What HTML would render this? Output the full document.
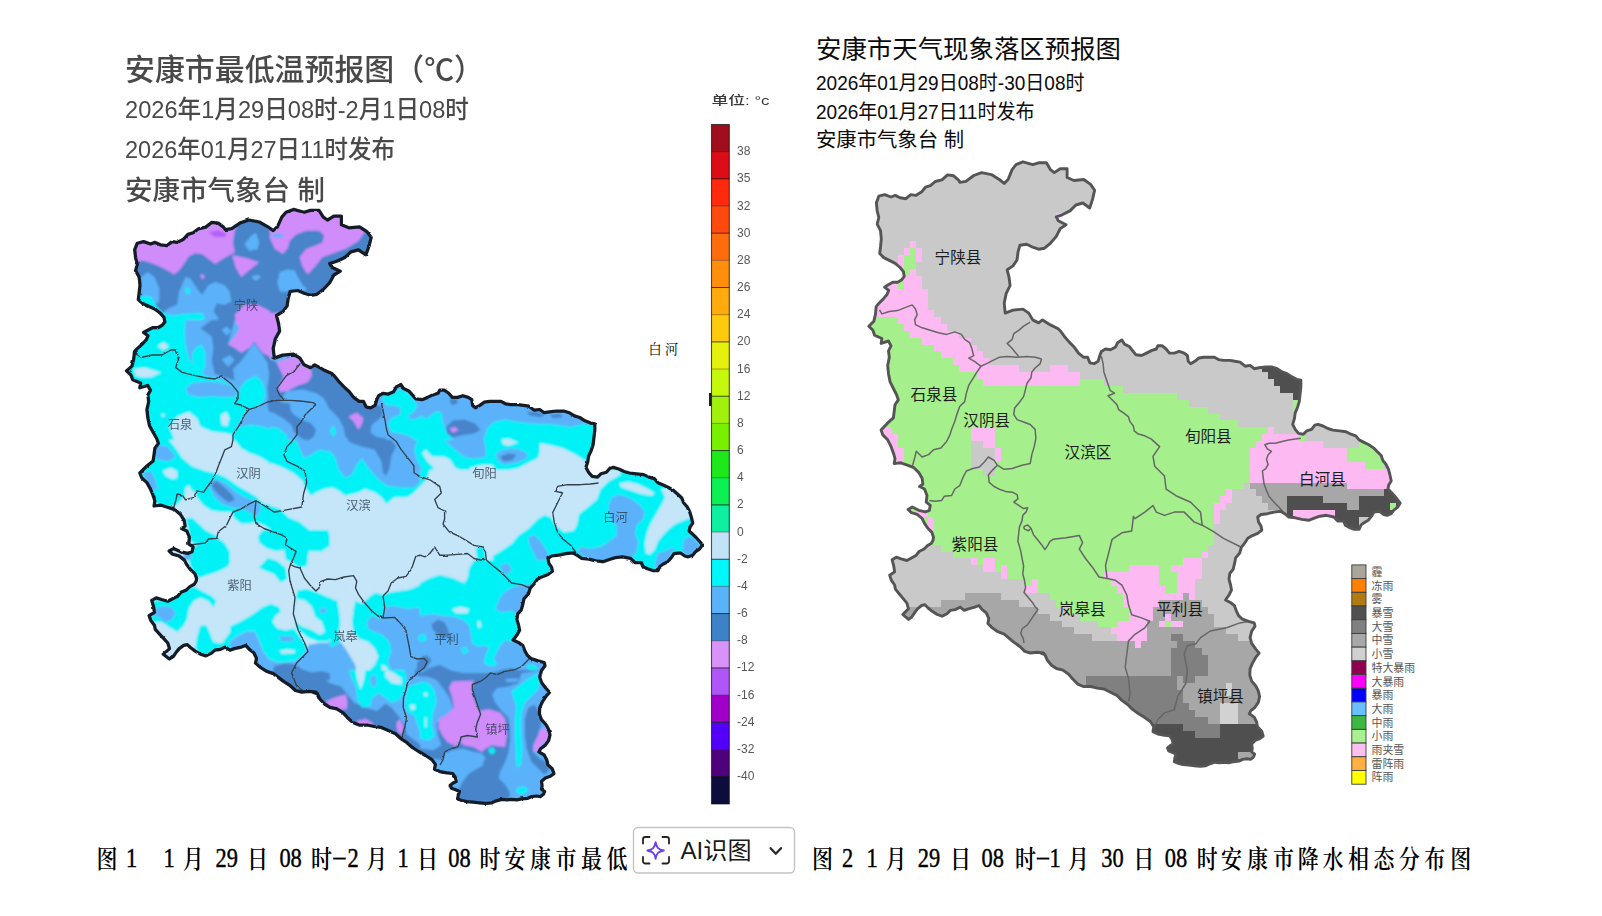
<!DOCTYPE html><html lang="zh"><head><meta charset="utf-8"><title>安康市天气预报图</title>
<style>html,body{margin:0;padding:0;background:#fff}body{width:1602px;height:916px;overflow:hidden;position:relative}svg{position:absolute;left:0;top:0;display:block}text{white-space:pre}</style></head><body>
<svg width="1602" height="916" viewBox="0 0 1602 916">
<defs>
<clipPath id="clipL"><polygon points="137.3,243.2 143.6,241.6 150.6,244 155.1,242.4 160.4,244.8 166.7,245.7 172,241.6 177.3,242.4 183.5,239.2 187.9,234.4 193.2,232.8 198.5,228.8 205.7,227.1 211.9,222.3 218.2,223.1 223.5,227.1 225.3,229.6 231.7,228.7 240.3,222.9 248.7,220 259.3,222 267.9,226.8 273.2,230.6 277.4,226.8 281.8,217.1 286,212.3 293.5,209.4 304.1,212.3 310.5,210.4 319,210.4 323.3,217.1 327.5,220 333.9,216.2 341.4,216.2 341.4,224.8 348.8,227.8 359.5,226.8 366.9,231.6 371.2,237.4 369,246.1 365.9,254.8 358.4,249.9 350.9,251.9 344.5,257.7 336.1,261.5 329.7,263.5 331.7,267.3 340.3,271.2 333.9,275 329.7,282.7 323.3,289.5 316.9,294.3 310.5,295.3 304.1,293.3 297.7,290.5 290.2,291.5 288.2,298.2 287.1,305.9 282.8,311.7 276.5,315.5 278.5,323.3 279.6,331.1 275.4,338.7 273.2,348.3 274.3,358.1 282.8,355.1 293.5,354.1 299.9,358.1 304.1,364.8 310.5,367.7 314.7,364.8 323.3,369.7 331.7,373.5 334.2,375.7 338.7,381.3 344,386.9 349.3,391.7 353.7,397.4 359.1,401.4 363.5,401.4 366.2,407 370.7,407.8 375,405.4 376.8,399.7 378.6,395.7 383,393.3 388.3,394.1 393.6,391.7 396.3,386.9 400.8,384.5 403.5,388.5 408.8,390.9 412.3,394.9 415.9,398.9 422.1,399.7 427.4,397.4 432.8,394.9 438.1,393.3 439.8,390.1 444.2,390.1 448.7,393.3 452.3,397.4 457.6,397.4 462.9,395.7 468.2,397.4 471.8,399.7 472.6,405.4 475.4,407.8 479.8,405.4 484.2,402.2 489.6,401.4 496.7,401.4 501,401.4 505.5,403.8 510.9,404.6 518,404.6 523.3,405.4 528.8,406.2 534.4,410.2 539.7,409.5 544.2,412.7 549.5,411.8 556.6,411 563.7,411 569.1,412.7 574.4,415.9 579.7,417.5 585,420.8 590.4,423.1 594.8,423.9 594.8,430.4 593.9,437.7 593.1,444.8 591.2,450.5 588.6,456.1 587.8,461.7 585.9,467.4 588.6,472.3 592.2,476.3 597.5,477.1 601,473.8 606.4,472.3 609.9,468.2 613.4,467.4 618.8,469 624.1,471.5 629.5,473 636.5,473.8 643.7,474.6 649,477.1 654.3,478.6 657.9,482.7 663.2,485.1 668.5,487.5 673.8,490.7 678.3,494.8 681.8,498 683.6,502.8 687.1,506.8 689.7,511.7 691.6,518.1 692.7,523.1 690,527 689.1,531 692.7,534.3 696.1,537.5 699.7,541.5 702.4,544.8 699.7,548.8 695.3,551.9 692.7,555.2 688.2,556.8 684.7,556 680.2,552.8 674,553.6 671.3,557.6 667.7,561.7 663.3,564 659.8,566.5 658,570.5 652.7,570.5 647.4,568.8 642.9,566.5 641.2,562.5 634.9,562.5 630.5,558.4 622.5,556.8 615.4,557.6 610.1,559.2 603,561.7 595.9,560.8 588.7,559.2 581.7,558.4 577.2,555.2 572.8,552.8 565.8,553.6 558.6,555.2 551.6,556 548,558.4 548.8,563.2 551.6,567.3 552.4,571.3 548,574.5 541.7,576.9 537.2,579.4 533.8,584.2 530.2,588.2 528.5,593.8 524,598.6 523,603.5 521.3,609.9 517.7,613.9 516.9,619.5 518.6,625.2 519.6,630.2 516.9,635.1 513.1,640 518.4,642.4 522.8,645.6 524.7,650.4 527.3,655.3 530.9,658.5 538,660.9 544.2,662.5 545,665.7 541.5,670.5 539.7,677 541.5,682.6 545.9,688.2 549.5,692.3 545.9,696.3 542.3,702 539.7,707.6 539.4,714 541.5,719.7 545.9,724.5 548.6,729.3 550,734.9 548.6,740.6 545,745.4 540.6,748.7 538.9,751.8 544.2,755 546.8,759.9 547.8,764.7 552.2,768.7 553.9,773.6 550.3,776.3 545.3,778 541.5,781.4 542.1,785.9 541.5,789.2 544.6,791.5 543.4,794.3 540.3,796.6 536.6,796 531.6,796.6 527.8,798.3 521.6,798.9 516.7,799.9 511.7,799.4 506.7,799.9 501.7,799.4 495.5,801.1 491.8,802.8 485.5,803.4 479.4,802.8 473.2,802.2 466.9,801.6 461.9,800.5 457.6,798.9 458.2,794.9 459.5,791.5 455.7,789.8 451.4,788.2 450.2,785.3 453.2,783 456.4,781.4 455.1,776.9 452.6,773.5 447.1,772.9 439.8,771.6 434.5,769.3 435.4,764.4 431.9,759.6 425.6,755.5 418.6,751.5 412.3,747.5 407,742.7 400.8,738.6 395.5,733.8 388.3,730.6 381.3,727.4 374.1,726.5 367.1,725 359.1,725 352.9,722.6 347.6,717.7 343.1,712.9 336.8,708.9 329.8,707.3 324.5,704 320,699.2 317.3,693.6 312,692 315.9,692.1 308.9,691.3 301.7,692.1 295.5,690.5 290.2,685.7 283.9,681.6 278.6,677.6 273.3,673.6 266.3,671.1 260,667.1 255.5,663.1 256.5,658.3 253.8,652.7 249.4,649.4 245.8,645.4 241.3,647.1 234.3,648.6 229.9,650.2 225.4,647.1 220.1,649.4 214.8,650.2 211.2,653.4 205.9,655.9 200.6,654.2 195.2,651.1 190.7,647.8 187.3,644.6 183.7,645.4 179.2,648.6 176.5,651.9 173.1,656.7 169.5,659 163.3,654.2 165.9,651.9 169.5,648.6 167.8,643 163.3,638.1 158.9,633.3 155.3,629.3 154.4,625.2 150.8,620.4 149.1,615.6 154.4,612.4 153.6,606.8 151.7,600.4 156.2,597.9 161.5,599.5 167.8,601.2 171.2,599.5 177.5,596.4 181,592.3 186.4,589.9 189.9,586.6 194.3,584.3 196.2,581 196.6,578.4 194.9,573.6 190.4,569.5 186.8,564.7 184.2,559.9 178.9,555.9 172.6,554.2 169.1,551 173.5,548.6 180.7,551.8 187.7,553.4 192.1,551.8 193.1,546.9 188.7,543.8 189.5,537.3 186.8,530.9 181.5,528.5 185.1,526.1 184.2,520.4 180.7,514.8 175.3,510 168.2,507.5 161.1,505.2 154,506 154.9,501.1 153.1,495.4 150.5,489.1 146.9,482.6 141.6,477.8 139.8,472.9 146.9,466 153.1,461 154,454.7 154.9,448.2 158.4,443.4 156.7,438.5 153.1,432.2 149.5,425.7 147.8,417.6 146.9,409.6 148.7,401.5 147.8,395.1 150.5,390.3 147.8,385.5 139.8,387.8 140.7,383 132.7,379.8 130.9,375 126.5,370.9 131.9,366.1 133.6,359.6 134.5,351.7 136.4,349.4 141.7,344.6 146.2,339.8 148,335.8 143.6,332.5 146.2,331 152.5,327.7 157.8,327.7 162.2,325.3 164.8,322.1 164,317.3 160.4,313.3 155.1,309.2 149.8,306.8 142.7,303.5 138.3,299.5 139.1,293.1 140,285.1 139.1,277 135.6,270.6 137.3,264.1 135.6,257.8 134.7,249.7"/></clipPath>
<clipPath id="clipR"><polygon points="878.8,196.2 884.6,194.6 891.1,197 895.2,195.4 900.1,197.8 905.9,198.7 910.8,194.6 915.7,195.4 921.4,192.1 925.5,187.2 930.4,185.6 935.3,181.5 941.9,179.8 947.6,174.9 953.4,175.7 958.3,179.8 960,182.4 965.9,181.4 973.8,175.5 981.6,172.6 991.4,174.6 999.3,179.5 1004.2,183.4 1008.1,179.5 1012.1,169.6 1016,164.7 1022.9,161.8 1032.7,164.7 1038.6,162.8 1046.4,162.8 1050.4,169.6 1054.3,172.6 1060.2,168.7 1067.1,168.7 1067.1,177.5 1073.9,180.5 1083.8,179.5 1090.6,184.4 1094.6,190.3 1092.6,199.1 1089.7,208 1082.8,203 1075.9,205 1070,210.9 1062.2,214.8 1056.3,216.8 1058.2,220.7 1066.1,224.7 1060.2,228.6 1056.3,236.4 1050.4,243.3 1044.5,248.2 1038.6,249.2 1032.7,247.2 1026.8,244.3 1019.9,245.3 1018,252.2 1017,260 1013,265.9 1007.2,269.8 1009.1,277.7 1010.1,285.6 1006.2,293.4 1004.2,303.2 1005.2,313.1 1013,310.1 1022.9,309.1 1028.8,313.1 1032.7,319.9 1038.6,322.9 1042.5,319.9 1050.4,324.9 1058.2,328.8 1060.5,331 1064.6,336.7 1069.5,342.4 1074.4,347.3 1078.5,353.1 1083.4,357.2 1087.5,357.2 1090,362.9 1094.1,363.7 1098.1,361.3 1099.8,355.5 1101.4,351.4 1105.5,349 1110.4,349.8 1115.3,347.3 1117.8,342.4 1121.9,340 1124.4,344.1 1129.3,346.5 1132.5,350.6 1135.8,354.7 1141.6,355.5 1146.5,353.1 1151.4,350.6 1156.3,349 1157.9,345.7 1162,345.7 1166.1,349 1169.4,353.1 1174.3,353.1 1179.2,351.4 1184.1,353.1 1187.4,355.5 1188.2,361.3 1190.7,363.7 1194.8,361.3 1198.9,358 1203.8,357.2 1210.4,357.2 1214.4,357.2 1218.5,359.6 1223.5,360.4 1230,360.4 1234.9,361.3 1240,362.1 1245.2,366.2 1250.1,365.4 1254.2,368.7 1259.1,367.8 1265.7,367 1272.2,367 1277.2,368.7 1282.1,371.9 1287,373.6 1291.9,376.9 1296.8,379.3 1300.9,380.1 1300.9,386.7 1300.1,394.1 1299.3,401.4 1297.6,407.2 1295.2,412.9 1294.4,418.6 1292.7,424.4 1295.2,429.3 1298.5,433.4 1303.4,434.2 1306.6,430.9 1311.6,429.3 1314.8,425.2 1318.1,424.4 1323,426 1327.9,428.5 1332.9,430.1 1339.4,430.9 1346,431.7 1350.9,434.2 1355.8,435.8 1359.1,439.9 1364,442.4 1368.9,444.8 1373.8,448.1 1377.9,452.2 1381.2,455.5 1382.8,460.4 1386.1,464.5 1388.5,469.4 1390.2,476 1391.2,481 1388.7,485 1387.9,489.1 1391.2,492.4 1394.4,495.7 1397.7,499.8 1400.2,503.1 1397.7,507.2 1393.6,510.4 1391.2,513.7 1387.1,515.3 1383.8,514.5 1379.7,511.3 1374,512.1 1371.5,516.2 1368.2,520.3 1364.1,522.7 1360.9,525.2 1359.2,529.3 1354.3,529.3 1349.4,527.6 1345.3,525.2 1343.7,521.1 1337.9,521.1 1333.8,517 1326.5,515.3 1319.9,516.2 1315,517.8 1308.5,520.3 1301.9,519.4 1295.3,517.8 1288.8,517 1284.7,513.7 1280.6,511.3 1274.1,512.1 1267.5,513.7 1261,514.5 1257.7,517 1258.5,521.9 1261,526 1261.8,530.1 1257.7,533.4 1251.9,535.8 1247.8,538.3 1244.6,543.2 1241.3,547.3 1239.7,553 1235.6,557.9 1234.7,562.9 1233.1,569.4 1229.8,573.5 1229,579.2 1230.6,585 1231.5,590 1229,595 1225.5,600 1230.4,602.5 1234.5,605.7 1236.2,610.6 1238.6,615.6 1241.9,618.8 1248.5,621.3 1254.2,622.9 1255,626.2 1251.7,631.1 1250.1,637.7 1251.7,643.4 1255.8,649.1 1259.1,653.2 1255.8,657.3 1252.5,663.1 1250.1,668.8 1249.8,675.3 1251.7,681.1 1255.8,686 1258.3,690.9 1259.6,696.6 1258.3,702.4 1255,707.3 1250.9,710.6 1249.3,713.8 1254.2,717.1 1256.6,722 1257.5,726.9 1261.6,731 1263.2,736 1259.8,738.7 1255.2,740.5 1251.7,743.9 1252.3,748.5 1251.7,751.9 1254.6,754.2 1253.5,757.1 1250.6,759.4 1247.2,758.8 1242.6,759.4 1239.1,761.1 1233.4,761.7 1228.8,762.8 1224.2,762.2 1219.6,762.8 1215,762.2 1209.3,764 1205.9,765.7 1200.1,766.3 1194.4,765.7 1188.7,765.1 1182.9,764.5 1178.3,763.4 1174.3,761.7 1174.9,757.7 1176.1,754.2 1172.6,752.5 1168.6,750.8 1167.5,747.9 1170.3,745.6 1173.2,743.9 1172,739.3 1169.7,735.9 1164.6,735.3 1157.9,734 1153,731.6 1153.8,726.6 1150.6,721.7 1144.8,717.6 1138.3,713.5 1132.5,709.4 1127.6,704.5 1121.9,700.4 1117,695.5 1110.4,692.2 1103.9,689 1097.3,688.1 1090.8,686.5 1083.4,686.5 1077.7,684.1 1072.8,679.1 1068.7,674.2 1062.9,670.1 1056.4,668.5 1051.5,665.2 1047.4,660.3 1044.9,654.6 1040,652.9 1043.6,653 1037.1,652.2 1030.5,653 1024.8,651.4 1019.9,646.5 1014.1,642.4 1009.2,638.3 1004.3,634.2 997.8,631.7 992,627.6 987.9,623.5 988.8,618.6 986.3,612.9 982.2,609.6 978.9,605.5 974.8,607.2 968.3,608.8 964.2,610.4 960.1,607.2 955.2,609.6 950.3,610.4 947,613.7 942.1,616.2 937.2,614.5 932.2,611.3 928.1,608 924.9,604.7 921.6,605.5 917.5,608.8 915,612.1 911.8,617 908.5,619.4 902.8,614.5 905.2,612.1 908.5,608.8 906.9,603.1 902.8,598.1 898.7,593.2 895.4,589.1 894.6,585 891.3,580.1 889.7,575.2 894.6,571.9 893.8,566.2 892.1,559.7 896.2,557.2 901.1,558.8 906.9,560.5 910.1,558.8 915.9,555.6 919.1,551.5 924.1,549 927.3,545.7 931.4,543.3 933.1,540 933.5,537.3 931.9,532.4 927.8,528.3 924.5,523.4 922.1,518.5 917.2,514.4 911.4,512.7 908.1,509.4 912.2,507 918.8,510.3 925.3,511.9 929.4,510.3 930.3,505.3 926.2,502.1 927,495.5 924.5,489 919.6,486.5 922.9,484.1 922.1,478.3 918.8,472.6 913.9,467.7 907.3,465.2 900.8,462.8 894.2,463.6 895,458.7 893.4,452.9 891,446.4 887.7,439.8 882.8,434.9 881.1,430 887.7,422.9 893.4,417.9 894.2,411.4 895,404.8 898.3,399.9 896.7,395 893.4,388.5 890.1,381.9 888.5,373.7 887.7,365.5 889.3,357.3 888.5,350.8 891,345.9 888.5,341 881.1,343.4 881.9,338.5 874.6,335.2 872.9,330.3 868.8,326.2 873.8,321.3 875.4,314.7 876.2,306.6 878,304.3 882.9,299.4 887,294.5 888.7,290.4 884.6,287.1 887,285.5 892.8,282.2 897.7,282.2 901.8,279.7 904.2,276.5 903.4,271.6 900.1,267.5 895.2,263.4 890.3,260.9 883.8,257.6 879.7,253.5 880.5,247 881.3,238.8 880.5,230.6 877.2,224.1 878.8,217.5 877.2,211 876.4,202.8"/></clipPath>
<filter id="soft" x="-5%" y="-5%" width="110%" height="110%"><feGaussianBlur stdDeviation="0.45"/></filter>
<filter id="soft2" x="-5%" y="-5%" width="110%" height="110%"><feGaussianBlur stdDeviation="1.15"/></filter>
<filter id="rough" x="-3%" y="-3%" width="106%" height="106%"><feTurbulence type="fractalNoise" baseFrequency="0.2" numOctaves="2" seed="7" result="n"/><feDisplacementMap in="SourceGraphic" in2="n" scale="2.0" xChannelSelector="R" yChannelSelector="G"/><feGaussianBlur stdDeviation="0.6"/></filter>
<filter id="rough3" x="-3%" y="-3%" width="106%" height="106%"><feTurbulence type="fractalNoise" baseFrequency="0.2" numOctaves="2" seed="11" result="n"/><feDisplacementMap in="SourceGraphic" in2="n" scale="2.2" xChannelSelector="R" yChannelSelector="G"/><feGaussianBlur stdDeviation="0.45"/></filter>
<filter id="rough2" x="-3%" y="-3%" width="106%" height="106%"><feTurbulence type="fractalNoise" baseFrequency="0.2" numOctaves="2" seed="3" result="n"/><feDisplacementMap in="SourceGraphic" in2="n" scale="1.3" xChannelSelector="R" yChannelSelector="G"/></filter>
</defs>
<g id="leftmap">
<g clip-path="url(#clipL)"><g filter="url(#soft2)">
<rect x="100" y="190" width="640" height="640" fill="#5cb2fa"/>
<svg x="120" y="200" width="200" height="150" viewBox="120 200 200 150" overflow="hidden">
<rect x="120" y="200" width="200" height="150" fill="#4784c9"/>
<polygon fill="#d08cfb" points="133.1,245.9 141.3,239.3 169.1,235.2 193.7,226.2 211.7,218 224.8,221.3 237.9,224.6 234.7,231.1 233,242.6 234.7,252.4 228.1,255.7 221.6,259.8 215,263.9 208.5,259 201.9,254.1 195.3,253.2 188.8,256.5 183.9,263.9 179,270.4 174.1,274.5 167.5,270.4 159.3,266.3 151.1,263.1 142.9,260.6 134.7,262.2"/>
<polygon fill="#d08cfb" points="232.2,254.9 246.1,258.1 259.2,262.2 251,268.8 241.2,277 235.5,267.2"/>
<polygon fill="#d08cfb" points="274,230.3 283.8,232.8 285.4,237.3 277.2,238.5 272.3,242.9 274,249.1 280.5,254.4 290.4,252.7 296.1,245 300.2,236.4 308.4,231.4 321.5,230.3 321.5,206.6 280.5,206.6"/>
<polygon fill="#d08cfb" points="300.2,254.1 310,247.5 320,245.9 320,265.5 313.3,268.8 308.4,273.7 303.5,265.5 298.5,260.6"/>
<polygon fill="#d08cfb" points="234.7,314.7 244.5,304.8 257.6,304.8 267.4,309.7 277.2,314.7 275.6,324.5 274,339.2 272.3,350 256,350 254.3,340.9 244.5,342.5 234.7,347.4 226.5,345.8 233,331 236.3,322.9"/>
<polygon fill="#b260fb" points="208.5,231.9 218.3,230.3 226.5,233.6 224.8,236.9 215,236.9"/>
<polygon fill="#d08cfb" points="200.3,275.3 202.7,274 204.8,277 202.2,279.4"/>
<polygon fill="#5cb2fa" points="141.3,277 147.8,272.1 154.4,277 159.3,288.5 159.3,301.6 152.8,306.5 144.6,299.9 139.7,288.5"/>
<polygon fill="#5cb2fa" points="179,291.7 185.5,277 190.4,278.6 197,288.5 201.9,295 208.5,285.2 215,281.9 224.8,285.2 229.7,291.7 231.4,301.6 224.8,304.8 216.6,303.2 213.4,311.4 218.3,317.9 216.6,326.1 208.5,329.4 200.3,331 205.2,339.2 208.5,350 185.5,350 185.5,336 182.2,324.5 169.1,317.9 162.6,313 169.1,308.1 177.3,304.8"/>
<polygon fill="#5cb2fa" points="244.5,244.2 251,236 256,232.8 259.2,242.6 257.6,249.1 249.4,250.8"/>
<polygon fill="#5cb2fa" points="278.9,277 283.8,270.4 293.6,269.6 300.2,277 305.1,286.8 296.9,291.7 288.7,294.2 280.5,291.7 277.2,283.5"/>
<polygon fill="#5cb2fa" points="251,277 257.6,274.5 260.9,277 256,281.1"/>
<polygon fill="#5cb2fa" points="221.6,331 226.5,326.9 231.4,331 226.5,336"/>
<polygon fill="#5cb2fa" points="270.7,233.6 283.8,232.8 283.8,236.9 272.3,236.9"/>
<polygon fill="#02f2f6" points="138,295.8 151.1,296.6 155.2,304.8 162.6,313 172.4,315.5 185.5,313.8 201.9,313 205.2,317.9 197,324.5 188.8,329.4 185.5,336 185.5,350 136.4,350"/>
<polygon fill="#02f2f6" points="184.7,289.3 188,286.8 190.8,290.9 188,295"/>
<polygon fill="#c5e5f9" points="158.5,345 162.6,342.5 167.5,345 167.5,350 158.5,350"/>
</svg>
<svg x="270" y="200" width="200" height="150" viewBox="270 200 200 150" overflow="hidden">
<rect x="270" y="200" width="200" height="150" fill="#4784c9"/>
<polygon fill="#d08cfb" points="270,227.8 270,216.4 279.8,206.6 324.1,204.9 345.3,213.1 365,222.9 364.2,232.8 358.5,241 347,248.3 335.5,252.4 322.4,257.3 315.9,265.5 307.7,274.5 302.8,267.2 299.5,257.3 306,249.1 314.2,245.9 322.4,242.6 324.1,235.2 319.1,230.8 306,230.8 296.2,234.4 289.7,241 288,247.5 283.1,254.1 274.9,249.1 270,238.5"/>
<polygon fill="#5cb2fa" points="271.6,234.1 278.2,233.3 284.7,234.7 283.9,237.3 273.3,237.7"/>
<polygon fill="#5cb2fa" points="279.8,272.1 288,269.6 294.6,270.4 297.8,277 302.8,285.2 307.7,290.1 299.5,291.7 291.3,289.3 286.4,291.7 279.8,291.7 277.4,281.9"/>
<polygon fill="#d08cfb" points="266.7,313 279.8,313 279.8,350 266.7,350"/>
</svg>
<svg x="120" y="320" width="200" height="150" viewBox="120 320 200 150" overflow="hidden">
<rect x="120" y="320" width="200" height="150" fill="#5cb2fa"/>
<polygon fill="#4784c9" points="198.6,329.8 205.2,324.9 211.7,320 234.7,320 228.1,344.6 234.7,347.8 241.2,352.8 249.4,347.8 254.3,341.3 262.5,352.8 272.3,357.7 277.2,362.6 280.5,369.1 283.8,375.7 279.7,385.5 281.3,392.1 290.4,388.8 300.2,383.9 310,377.3 311.6,369.1 320,365.9 320,405.2 313.3,403.5 300.2,401.9 290.4,400.3 277.2,400.3 267.4,405.2 268.2,398.6 267.4,388.8 269.1,374.1 267.4,362.6 260.9,352.8 254.3,342.9 249.4,349.5 241.2,361 233,369.1 234.7,380.6 224.8,377.3 215,374.1 211.7,361 213.4,347.8 211.7,336.4 200.3,328.2"/>
<polygon fill="#4784c9" points="267.4,405.2 277.2,400.3 290.4,400.3 290.4,408.5 295.3,415 301.8,418.3 298.5,424.8 293.6,433 287.1,431.4 280.5,424.8 274,418.3 269.1,411.7"/>
<polygon fill="#4784c9" points="301.8,424.8 310,419.9 316.6,428.1 314.9,436.3 308.4,441.2 301.8,434.7"/>
<polygon fill="#d08cfb" points="234.7,320 278.9,320 280.5,329.8 274,341.3 272.3,357.7 262.5,352.8 254.3,341.3 249.4,347.8 241.2,352.8 234.7,347.8 228.1,344.6 234.7,336.4 239.6,328.2"/>
<polygon fill="#d08cfb" points="277.2,362.6 293.6,356 303.5,362.6 311.6,369.1 310,377.3 300.2,383.9 290.4,388.8 281.3,392.1 279.7,385.5 283.8,375.7 280.5,369.1"/>
<polygon fill="#5cb2fa" points="221.6,359.3 229.7,355.2 234.7,360.1 228.1,366.7"/>
<polygon fill="#5cb2fa" points="221.6,329.8 226.5,326.6 231.4,331.5 226.5,335.6"/>
<polygon fill="#02f2f6" points="157.7,320 185.5,320 184.7,333.1 185.5,344.6 188.8,357.7 195.3,369.1 205.2,375.7 218.3,379 231.4,383.9 237.9,390.4 240.4,398.6 244.5,405.2 251,409.3 244.5,413.4 241.2,419.9 234.7,428.1 241.2,426.5 251,424.8 262.5,426.5 272.3,429.7 280.5,434.7 285.4,441.2 290.4,444.5 287.1,451 283.8,459.2 287.1,470 120,470 120,320"/>
<polygon fill="#02f2f6" points="192.1,352.8 197,347 201.9,344.6 205.2,352.8 205.2,365.9 201.9,374.1 197,372.4 192.9,364.2"/>
<polygon fill="#02f2f6" points="239.6,388.8 246.1,380.6 256,375.7 262.5,382.2 265.8,393.7 262.5,403.5 252.7,408.5 244.5,405.2 239.6,398.6"/>
<polygon fill="#02f2f6" points="283.8,447.8 290.4,444.5 300.2,449.4 310,456 320,451 320,470 285.4,470"/>
<polygon fill="#5cb2fa" points="185.5,388.8 192.1,383.1 205.2,381.4 218.3,382.2 231.4,385.5 237.9,392.1 234.7,397 224.8,397 211.7,396.2 198.6,397 188.8,395.3"/>
<polygon fill="#5cb2fa" points="155.2,442.9 162.6,441.2 169.1,447.8 174.1,456 175.7,462.5 169.1,465.8 161,462.5 154.4,456"/>
<polygon fill="#4784c9" points="144.6,464.1 157.7,459.2 162.6,465.8 161,470 144.6,470"/>
<polygon fill="#c5e5f9" points="157.7,346.2 163.4,342.1 169.1,346.2 163.4,350.3"/>
<polygon fill="#c5e5f9" points="133.9,369.1 144.6,367.5 161,372.4 151.1,377.3 141.3,377.3 135.6,375.7"/>
<polygon fill="#c5e5f9" points="220.7,415 226.5,411.7 229.4,418.3 227.3,426.5 221.6,424.8"/>
<polygon fill="#c5e5f9" points="169.1,426.5 177.3,416.6 188.8,411.7 197,418.3 200.3,426.5 211.7,431.4 224.8,433 233,434.7 229.7,446.1 237.9,446.1 244.5,451 256,454.3 267.4,457.6 277.2,462.5 283.8,470 188.8,470 182.2,459.2 175.7,444.5 172.4,434.7"/>
<polygon fill="#c5e5f9" points="161,414.7 163.4,413.7 165.4,415.5 162.9,417"/>
</svg>
<svg x="270" y="320" width="200" height="150" viewBox="270 320 200 150" overflow="hidden">
<rect x="270" y="320" width="200" height="150" fill="#5cb2fa"/>
<polygon fill="#4784c9" points="286.4,391.3 297.8,385.5 307.7,382.2 311.8,375.7 311,367.5 317.5,365 325.7,369.1 333.9,375.7 340.4,383.9 348.6,390.4 356.8,398.6 363.4,401.1 368.3,406 374.8,404.4 381.4,406 383,415 378.1,419.9 371.6,424.8 370.7,433 376.5,436.3 384.7,437.9 392.9,444.5 394.5,451 392,459.2 391.2,470 383,470 384.7,460.9 383,451 374.8,447.8 361.7,446.9 351.9,442.9 345.3,436.3 343.7,428.1 338.8,418.3 329,408.5 324.1,398.6 315.9,392.9 302.8,389.6"/>
<polygon fill="#4784c9" points="270,359.3 276.6,362.6 279.8,369.1 283.9,377.3 278.2,387.2 279.8,392.1 286.4,391.3 279.8,401.9 289.7,403.5 291.3,411.7 296.2,416.6 302.8,419.9 311,423.2 315.9,429.7 314.2,436.3 307.7,441.2 301.1,437.9 294.6,433 291.3,424.8 283.1,418.3 274.9,413.4 270,411.7"/>
<polygon fill="#4784c9" points="446.1,424.8 451.8,420.7 461.6,419.1 470,420.7 470,434.7 460,437.1 450.2,436.3 446.1,431.4"/>
<polygon fill="#4784c9" points="450.2,397 470,397.8 470,405.2 458.4,404.4 451.8,401.9"/>
<polygon fill="#d08cfb" points="276.6,362.6 291.3,356.9 298.7,357.7 302.8,365.9 311,369.1 311.8,375.7 307.7,382.2 297.8,385.5 288,390.4 279.8,392.1 278.2,387.2 283.9,377.3 279.8,369.1"/>
<polygon fill="#d08cfb" points="348.6,416.6 356.8,412.5 363.4,418.3 361.7,424.8 358.5,429.7 353.5,421.6"/>
<polygon fill="#d08cfb" points="449.4,428.1 455.1,426.5 458.4,429.7 453.5,433"/>
<polygon fill="#d08cfb" points="270,320 279,320 279,329.8 273.3,339.7 272.5,358.5 270,358.5"/>
<polygon fill="#5cb2fa" points="291.3,401.9 302.8,401.1 313.4,402.7 309.3,408.5 302.8,416.6 294.6,415 290.5,408.5"/>
<polygon fill="#5cb2fa" points="372.4,426.5 381.4,421.6 384.7,431.4 383,437.9 374.8,436.3"/>
<polygon fill="#02f2f6" points="270,426.5 278.2,428.1 286.4,434.7 289.7,444.5 286.4,451 284.7,460.9 289.7,470 270,470"/>
<polygon fill="#02f2f6" points="288,449.4 296.2,442.9 302.8,449.4 309.3,456 319.1,451 330.6,449.4 335.5,456 333.9,470 291.3,470 284.7,460.9"/>
<polygon fill="#02f2f6" points="330.6,428.1 333.9,426.1 335.8,431.4 333.9,436.6 330.6,433.8"/>
<polygon fill="#02f2f6" points="381.4,397 392.9,392.1 399.4,388.8 407.6,392.1 412.5,398.6 417.4,405.2 414.1,411.7 407.6,416.6 412.5,419.9 422.3,416.6 430.5,416.6 440.4,411.7 442,418.3 437.1,424.8 433.8,433 435.4,441.2 433.8,451 443.6,456 453.5,451 460,456 470,460.9 470,470 414.1,470 410.9,462.5 414.1,454.3 417.4,444.5 412.5,437.9 406,434.7 397.8,433 391.2,431.4 387.9,424.8 391.2,418.3 399.4,415 401,408.5 394.5,405.2 386.3,405.2"/>
<polygon fill="#02f2f6" points="356.8,459.2 361.7,456 366.6,460.9 365,470 356.8,470"/>
<polygon fill="#c5e5f9" points="422.3,451 427.2,447.8 433.8,452.7 442,456 450.2,457.6 451.8,464.1 443.6,470 427.2,470 422.3,460.9"/>
</svg>
<svg x="420" y="350" width="200" height="150" viewBox="420 350 200 150" overflow="hidden">
<rect x="420" y="350" width="200" height="150" fill="#5cb2fa"/>
<polygon fill="#02f2f6" points="420,415.5 426.6,418.8 434.7,412.2 441.3,411.4 442.9,422.1 446.2,431.9 452.8,439.3 461,449.9 467.5,458.1 469.1,467.9 461,472.9 420,481"/>
<polygon fill="#02f2f6" points="467.5,458.9 485.5,457.3 485.5,448.3 483.9,438.5 487.2,428.6 493.7,422.1 505.2,419.6 518.3,422.1 534.7,423.7 554.3,424.5 570.7,427 583.8,423.7 597.7,423.7 595.3,438.5 592,451.6 590.4,471.2 583.8,481 461,481 461,464.7"/>
<polygon fill="#5cb2fa" points="495.3,454.8 501.9,449.9 511.7,448.3 521.6,449.9 528.1,454.8 524.8,459.7 515,463 505.2,464.7 498.6,461.4"/>
<polygon fill="#4784c9" points="500.3,456.5 508.5,453.2 516.6,454.8 511.7,460.6 503.5,461.4"/>
<polygon fill="#4784c9" points="446.2,427 452.8,420.4 464.2,419.6 475.7,423.7 480.6,430.3 474.1,433.5 462.6,435.2 452.8,437.6 447,433.5"/>
<polygon fill="#d08cfb" points="449.5,428.6 455.2,427 458.5,430.3 452.8,432.7"/>
<polygon fill="#4784c9" points="449.5,399.1 457.7,399.1 456.9,404.1 451.1,404.9"/>
<polygon fill="#4784c9" points="526.5,411.4 537.9,412.2 544.5,414.7 541.2,417.2 529.7,415.5"/>
<polygon fill="#4784c9" points="549.4,414.7 560.9,413.9 562.5,417.2 552.7,418"/>
<polygon fill="#c5e5f9" points="501.9,439.3 508.5,438.5 518.3,442.5 508.5,445.8 502.7,444.2"/>
<polygon fill="#c5e5f9" points="420,474.5 429.8,471.2 439.7,467.9 449.5,463 454.4,471.2 461,472.9 469.1,467.9 482.2,464.7 492.1,464.7 497,471.2 501.9,475.3 505.2,470.4 518.3,467.9 528.1,463 537.9,458.1 541.2,448.3 544.5,443.4 556,444.2 567.4,446.6 577.2,451.6 583.8,458.1 588.7,464.7 590.4,471.2 596.1,477.8 598.5,486 598.5,500 420,500"/>
<polygon fill="#c5e5f9" points="421.6,451.6 426.6,447.5 433.1,451.6 438,456.5 446.2,454.8 451.1,458.1 449.5,464.7 439.7,467.9 429.8,471.2 423.3,464.7"/>
<polygon fill="#02f2f6" points="600.2,481 608.4,474.5 620,471.2 620,500 600.2,500"/>
</svg>
<svg x="540" y="440" width="200" height="150" viewBox="540 440 200 150" overflow="hidden">
<rect x="540" y="440" width="200" height="150" fill="#02f2f6"/>
<polygon fill="#c5e5f9" points="540,443.3 549.8,444.9 562.9,448.2 576,454.7 585.9,461.3 587.5,469.5 592.4,475.2 600.6,477.7 605.5,481 600.6,487.5 595.7,497.3 589.1,505.5 581,510.4 577.7,518.6 576,528.5 571.1,532.5 564.6,528.5 558,521.9 553.1,515.3 546.6,513.7 540,515.3"/>
<polygon fill="#c5e5f9" points="618.6,483.4 628.5,481.8 638.3,484.2 648.1,489.1 654.7,493.2 651.4,495.7 641.6,494.1 631.7,490.8 621.9,487.5"/>
<polygon fill="#c5e5f9" points="661.2,489.1 667.8,488.3 677.6,494.1 682.5,502.2 687.4,508.8 692.3,517 684.1,520.3 676,523.5 669.4,528.5 662.9,535 657.9,541.6 654.7,549.7 649.7,554.7 645.7,553 644.8,543.2 647.3,531.7 651.4,521.9 656.3,513.7 661.2,505.5 665.3,497.3"/>
<polygon fill="#5cb2fa" points="605.5,500.6 613.7,495.7 621.9,494.9 631.7,499 639.9,505.5 644.8,512.1 643.2,518.6 636.6,525.2 635,533.4 638.3,541.6 636.6,551.4 631.7,557.9 618.6,557.9 605.5,560.4 594.1,560.4 582.6,557.1 577.7,551.4 581,546.5 589.1,548.1 599,549.7 608.8,544.8 615.3,536.6 615.3,526.8 610.4,518.6 605.5,510.4"/>
<polygon fill="#5cb2fa" points="657.9,553 664.5,551.4 671,548.1 676,549.7 671,553 669.4,557.9 664.5,564.5 657.9,571 654.7,564.5"/>
<polygon fill="#5cb2fa" points="684.1,538.3 692.3,536.6 700.5,544.8 697.2,551.4 692.3,554.7 687.4,556.3 682.5,551.4"/>
<polygon fill="#5cb2fa" points="540,544.8 544.9,548.1 548.2,557.9 549.8,567.8 540,577.6"/>
</svg>
<svg x="120" y="440" width="200" height="150" viewBox="120 440 200 150" overflow="hidden">
<rect x="120" y="440" width="200" height="150" fill="#c5e5f9"/>
<polygon fill="#02f2f6" points="157.7,440 169.1,440 175.7,448.2 182.2,458 192.1,466.2 205.2,471.1 216.6,473.6 226.5,477.7 237.9,485.9 249.4,492.4 256,496.5 264.1,503.9 274,505.5 283.8,510.4 292,518.6 300.2,521.9 310,528.5 320,536.6 320,551.4 313.3,548.1 306.7,554.7 300.2,553 293.6,546.5 290.4,538.3 283.8,533.4 274,531.7 264.1,525.2 256,521.9 249.4,523.5 241.2,523.5 234.7,518.6 231.4,512.1 221.6,512.1 211.7,510.4 203.5,505.5 197,497.3 193.7,490.8 185.5,494.1 182.2,499 175.7,505.5 167.5,507.2 157.7,505.5 149.5,490.8 146.2,481 136.4,476 136.4,456.4 154.4,449.8"/>
<polygon fill="#5cb2fa" points="156.9,444.9 167.5,446.6 175.7,456.4 169.1,461.3 157.7,459.7 152.8,451.5"/>
<polygon fill="#5cb2fa" points="142.9,472.8 151.1,471.1 156,481 157.7,489.1 151.1,490.8 146.2,481"/>
<polygon fill="#c5e5f9" points="162.6,471.1 170.8,467.8 177.3,471.1 177.3,477.7 172.4,479.3 165.9,476"/>
<polygon fill="#c5e5f9" points="184.7,489.1 188.8,485 192.1,490.8 190.4,497.3 185.5,497.3"/>
<polygon fill="#5cb2fa" points="208.5,484.2 215,478.5 224.8,482.6 234.7,490.8 244.5,497.3 254.3,500.6 260.9,505.5 259.2,513.7 256,517 249.4,512.1 241.2,508.8 231.4,507.2 221.6,503.9 213.4,495.7"/>
<polygon fill="#4784c9" points="211.7,483.4 216.6,481 224.8,487.5 233,495.7 234.7,500.6 228.1,502.2 219.9,495.7 213.4,489.1"/>
<polygon fill="#02f2f6" points="234.7,440 293.6,440 290.4,446.6 285.4,454.7 288.7,462.9 298.5,467.8 305.1,472.8 306.7,482.6 312.5,496.5 320,490.8 320,499 313.3,497.3 306.7,494.1 298.5,487.5 290.4,481 280.5,476 274,469.5 267.4,461.3 259.2,456.4 249.4,453.1 241.2,448.2"/>
<polygon fill="#02f2f6" points="285.4,449.8 293.6,440 320,440 320,490.8 312.5,496.5 306.7,482.6 305.1,472.8 298.5,467.8 288.7,462.9"/>
<polygon fill="#5cb2fa" points="296.9,440 320,440 320,456.4 308.4,453.1 300.2,446.6"/>
<polygon fill="#02f2f6" points="185.5,518.6 192.1,517.8 198.6,523.5 205.2,530.1 211.7,533.4 218.3,536.6 216.6,539.9 208.5,539.9 205.2,544.8 197,544.8 190.4,541.6 188.8,531.7"/>
<polygon fill="#02f2f6" points="190.4,548.1 197,544.8 205.2,544.8 208.5,539.9 218.3,538.3 224.8,543.2 229.7,551.4 233,561.2 231.4,569.4 224.8,572.7 215,576 205.2,579.2 198.6,584.1 193.7,579.2 188.8,571 185.5,564.5 182.2,557.9 188.8,554.7"/>
<polygon fill="#5cb2fa" points="182.2,551.4 190.4,553 192.1,557.9 185.5,561.2"/>
<polygon fill="#02f2f6" points="259.2,531.7 267.4,529.3 277.2,533.4 285.4,538.3 290.4,546.5 287.1,553 277.2,554.7 267.4,551.4 260.9,544.8 257.6,538.3"/>
<polygon fill="#02f2f6" points="259.2,566.1 267.4,557.9 277.2,561.2 285.4,567.8 288.7,576 287.1,584.1 278.9,580.9 270.7,574.3 264.1,569.4"/>
<polygon fill="#02f2f6" points="192.1,585.8 198.6,584.1 205.2,587.4 205.2,590 192.1,590"/>
<polygon fill="#02f2f6" points="297.7,553 305.1,554.7 306.7,564.5 300.2,567.8 296.9,561.2"/>
<polygon fill="#02f2f6" points="310,587.4 320,585.8 320,590 310,590"/>
</svg>
<svg x="270" y="440" width="200" height="150" viewBox="270 440 200 150" overflow="hidden">
<rect x="270" y="440" width="200" height="150" fill="#c5e5f9"/>
<polygon fill="#02f2f6" points="270,440 470,440 470,469.5 463.3,471.1 455.1,467.8 450.2,459.7 443.6,456.4 432.2,456.4 425.6,449.8 422.3,453.1 427.2,461.3 433.8,467.8 430.5,476 424,482.6 414.1,492.4 407.6,497.3 394.5,497.3 386.3,503.9 381.4,497.3 374.8,492.4 365,489.1 358.5,492.4 345.3,495.7 338.8,490.8 332.2,487.5 324.1,489.1 315.9,492.4 311,495.7 306,489.1 302.8,481 292.9,472.8 283.1,467.8 274.9,464.6 270,462.9"/>
<polygon fill="#5cb2fa" points="296.2,440 417.4,440 414.1,449.8 417.4,461.3 424,472.8 422.3,481 414.1,487.5 401,487.5 387.9,485.9 378.1,479.3 368.3,467.8 361.7,458 356.8,464.6 351.9,474.4 345.3,477.7 338.8,469.5 335.5,458 330.6,451.5 319.1,449.8 311,454.7 304.4,458 299.5,448.2"/>
<polygon fill="#4784c9" points="347,440 391.2,440 396.1,446.6 391.2,456.4 389.6,467.8 386.3,476 383,472.8 381.4,461.3 374.8,449.8 361.7,446.6 351.9,443.3"/>
<polygon fill="#5cb2fa" points="443.6,440 470,440 470,458 463.3,456.4 453.5,448.2"/>
<polygon fill="#02f2f6" points="270,505.5 279.8,508.8 288,517 299.5,521.9 307.7,528.5 317.5,538.3 327.3,543.2 330.6,548.1 325.7,553 315.9,549.7 307.7,551.4 306,561.2 302.8,567.8 294.6,564.5 289.7,554.7 279.8,553 270,554.7"/>
<polygon fill="#02f2f6" points="270,559.6 278.2,564.5 284.7,571 286.4,580.9 279.8,582.5 270,576"/>
<polygon fill="#02f2f6" points="417.4,582.5 427.2,576 437.1,574.3 450.2,579.2 460,577.6 470,564.5 470,590 414.1,590"/>
<polygon fill="#02f2f6" points="433.8,548.1 437.1,545.7 440.4,553 435.4,556.3"/>
</svg>
<svg x="420" y="470" width="200" height="150" viewBox="420 470 200 150" overflow="hidden">
<rect x="420" y="470" width="200" height="150" fill="#c5e5f9"/>
<polygon fill="#02f2f6" points="492.1,556.8 501.9,550.3 511.7,543.7 518.3,535.5 528.1,529 537.9,519.1 544.5,515 551,517.5 556,525.7 564.1,532.2 574,530.6 577.2,524.1 578.9,514.2 587.1,507.7 596.9,499.5 600.2,489.7 608.4,481.5 620,474.9 620,561.7 547.8,561.7 549.4,568.3 541.2,576.5 533,584.7 524.8,583 516.6,578.1 508.5,573.2 501.9,568.3 495.3,563.4"/>
<polygon fill="#5cb2fa" points="528.1,537.2 534.7,534.7 541.2,542.1 547.8,551.9 549.4,561.7 549.4,568.3 544.5,574.8 539.6,568.3 534.7,555.2 529.7,545.3"/>
<polygon fill="#5cb2fa" points="503.5,566.6 510.1,563.4 516.6,568.3 516.6,574.8 510.1,576.5 505.2,571.6"/>
<polygon fill="#5cb2fa" points="620,494.6 611.6,497.8 608.4,506 610,519.1 616.6,525.7 616.6,535.5 608.4,542.1 600.2,547 590.4,548.6 580.5,547 577.2,551.9 582.2,556.8 601.8,561.7 620,558.5"/>
<polygon fill="#02f2f6" points="420,581.4 429.8,578.1 438,574.8 449.5,578.1 461,583 467.5,574.8 469.1,566.6 475.7,560.1 485.5,561.7 493.7,568.3 501.9,574.8 508.5,583 505.2,591.2 498.6,597.8 493.7,606 490.4,612.5 498.6,612.5 511.7,614.1 515,620 420,620"/>
<polygon fill="#5cb2fa" points="488.8,612.5 493.7,606 498.6,597.8 505.2,591.2 511.7,584.7 518.3,584.7 528.1,587.9 534.7,584.7 524.8,597.8 521.6,607.6 518.3,620 508.5,620 508.5,612.5 498.6,612.5"/>
<polygon fill="#5cb2fa" points="429.8,615.8 439.7,614.1 441.3,620 429.8,620"/>
<polygon fill="#c5e5f9" points="451.9,609.2 461,606.8 469.1,609.2 467.5,613.3 456,614.1"/>
<polygon fill="#02f2f6" points="475.7,548.6 482.2,545.3 485.5,551.9 485.5,560.1 477.3,560.1"/>
<polygon fill="#02f2f6" points="420,470 429.8,470 426.6,479.8 420,486.4"/>
</svg>
<svg x="120" y="560" width="200" height="150" viewBox="120 560 200 150" overflow="hidden">
<rect x="120" y="560" width="200" height="150" fill="#c5e5f9"/>
<polygon fill="#02f2f6" points="188.8,560 231.4,560 228.1,566.6 218.3,571.5 208.5,574.7 198.6,578 193.7,573.1 190.4,566.6"/>
<polygon fill="#02f2f6" points="149.5,601 167.5,599.3 175.7,595.2 185.5,589.5 193.7,586.2 201.9,591.1 211.7,596 216.6,601 213.4,607.5 208.5,601 200.3,597.7 193.7,601 188.8,609.1 187.2,619 183.9,625.5 177.3,632.1 169.1,627.2 162.6,622.2 152.8,622.2 146.2,612.4"/>
<polygon fill="#5cb2fa" points="152.8,609.1 164.2,605.9 172.4,607.5 175.7,614.1 170.8,620.6 164.2,622.2 158.5,616.5 151.1,615.7"/>
<polygon fill="#02f2f6" points="200.3,625.5 206.8,625.5 210.1,633.7 213.4,641.9 221.6,643.5 218.3,649.3 208.5,656.6 200.3,655.8 195.3,648.5 197,637"/>
<polygon fill="#02f2f6" points="221.6,643.5 231.4,630.4 241.2,623.9 251,617.3 259.2,610.8 267.4,605 275.6,607.5 282.2,612.4 275.6,617.3 272.3,623.9 277.2,628.8 287.1,630.4 293.6,628.8 300.2,637 306.7,646.8 305.1,658.3 298.5,659.9 290.4,656.6 280.5,658.3 274,653.4 267.4,641.9 260.9,630.4 254.3,625.5 247.8,630.4 241.2,635.3 234.7,641.9 233,648.5 224.8,648.5 218.3,649.3"/>
<polygon fill="#c5e5f9" points="279.7,650.1 288.7,648.5 295.3,651.7 288.7,654.2 281.3,653.4"/>
<polygon fill="#02f2f6" points="259.2,566.6 267.4,561.6 277.2,563.3 283.8,569.8 287.1,578 282.2,581.3 275.6,574.7 267.4,571.5"/>
<polygon fill="#02f2f6" points="296.9,592.8 303.5,589.5 313.3,592.8 320,601 320,625.5 316.6,615.7 310,605.9 301.8,601"/>
<polygon fill="#02f2f6" points="296.9,628.8 305.1,627.2 313.3,633.7 320,641.9 320,651.7 310,648.5 301.8,638.6"/>
<polygon fill="#5cb2fa" points="233,648.5 234.7,641.9 241.2,635.3 247.8,630.4 254.3,625.5 260.9,630.4 267.4,641.9 274,653.4 280.5,658.3 290.4,656.6 298.5,659.9 305.1,658.3 310,651.7 320,651.7 320,710 233,710"/>
<polygon fill="#4784c9" points="267.4,666.5 277.2,664 288.7,664.8 296.9,666.5 305.1,674.7 313.3,671.4 320,669.7 320,710 267.4,710"/>
</svg>
<svg x="270" y="560" width="200" height="150" viewBox="270 560 200 150" overflow="hidden">
<rect x="270" y="560" width="200" height="150" fill="#5cb2fa"/>
<polygon fill="#4784c9" points="270,664.8 279.8,666.5 292.9,664.8 299.5,668.1 307.7,674.7 315.9,671.4 325.7,673 335.5,677.9 342.1,684.5 347,691 350.3,699.2 351.9,710 270,710"/>
<polygon fill="#4784c9" points="432.2,623.9 438.7,620.6 445.3,623.9 448.5,632.1 446.9,638.6 437.1,637 433.8,630.4"/>
<polygon fill="#4784c9" points="414.1,671.4 422.3,664.8 432.2,658.3 433.8,666.5 443.6,673 453.5,674.7 470,673 470,684.5 460,682.9 451.8,684.5 450.2,691 443.6,684.5 433.8,677.9 424,676.3 415.8,677.9"/>
<polygon fill="#4784c9" points="417.4,661.6 424,656.6 431.3,655.8 432.2,661.6 427.2,668.1 420.7,673 416.6,669.7"/>
<polygon fill="#d08cfb" points="421.5,662.4 426.4,659.1 428.9,661.6 424.8,666.5"/>
<polygon fill="#d08cfb" points="325.7,699.2 335.5,696 345.3,694.3 347,702.5 345.3,710 332.2,710"/>
<polygon fill="#d08cfb" points="451.8,684.5 460,682.9 470,684.5 470,710 453.5,710 450.2,696"/>
<polygon fill="#02f2f6" points="270,560 288,560 286.4,569.8 291.3,581.3 294.6,589.5 304.4,589.5 312.6,591.1 319.1,594.4 324.1,599.3 332.2,597.7 337.2,599.3 338.8,609.1 340.4,622.2 338.8,632.1 340.4,641.9 335.5,645.2 327.3,648.5 319.1,646.8 311,650.1 307.7,655 302.8,661.6 292.9,664.8 279.8,666.5 270,661.6"/>
<polygon fill="#5cb2fa" points="279.8,638.6 292.9,637 302.8,641.9 294.6,645.2 281.5,645.2"/>
<polygon fill="#5cb2fa" points="319.1,609.1 324.1,606.7 328.1,610.8 324.1,614.9"/>
<polygon fill="#02f2f6" points="353.5,609.1 361.7,604.2 368.3,597.7 374.8,592.8 383,594.4 384.7,602.6 383,615.7 378.1,619 371.6,615.7 366.6,622.2 368.3,628.8 374.8,632.1 383,635.3 389.6,641.9 391.2,651.7 387.9,661.6 391.2,671.4 399.4,677.9 406,681.2 404.3,691 402.7,700.9 401,710 374.8,710 368.3,700.9 365,691 363.4,681.2 368.3,671.4 374.8,664.8 378.1,656.6 374.8,648.5 368.3,641.9 358.5,638.6 353.5,632.1 351.9,622.2"/>
<polygon fill="#5cb2fa" points="371.6,674.7 376.5,673 378.1,681.2 374.8,687.8 370.7,682.9"/>
<polygon fill="#02f2f6" points="383,594.4 387.9,592.8 397.8,591.1 409.2,589.5 417.4,586.2 424,581.3 433.8,576.4 443.6,574.7 453.5,573.1 463.3,579.7 470,581.3 470,620.6 463.3,617.3 453.5,615.7 443.6,615.7 433.8,614.1 424,610.8 417.4,607.5 409.2,609.1 401,607.5 392.9,605.9 386.3,607.5 384.7,602.6"/>
<polygon fill="#02f2f6" points="407.6,684.5 417.4,681.2 427.2,684.5 435.4,691 440.4,699.2 443.6,710 404.3,710 406,696"/>
<polygon fill="#02f2f6" points="460,646.8 470,645.2 470,658.3 461.6,656.6"/>
<polygon fill="#02f2f6" points="417.4,637 424,635.3 427.2,639.4 420.7,641.9"/>
<polygon fill="#c5e5f9" points="307.7,560 470,560 470,581.3 463.3,579.7 453.5,573.1 443.6,574.7 433.8,576.4 424,581.3 417.4,586.2 409.2,589.5 397.8,591.1 387.9,592.8 383,594.4 374.8,592.8 368.3,597.7 361.7,604.2 355.2,601 351.9,592.8 347,587.8 338.8,592.8 332.2,597.7 324.1,599.3 319.1,594.4 312.6,591.1 304.4,589.5 297.8,591.1 294.6,584.6 292.9,576.4 299.5,569.8 306,566.6"/>
<polygon fill="#c5e5f9" points="345.3,586.2 351.9,584.6 358.5,602.6 351.9,605.9"/>
<polygon fill="#c5e5f9" points="330.6,591.1 340.4,591.1 338.8,601 332.2,599.3"/>
<polygon fill="#02f2f6" points="352.7,600.1 362.5,603.4 354.4,610"/>
<polygon fill="#c5e5f9" points="335.5,592.8 347,587.8 355.2,601 353.5,609.1 351.9,622.2 353.5,632.1 358.5,638.6 368.3,641.9 374.8,648.5 378.1,656.6 374.8,664.8 368.3,671.4 363.4,681.2 360.1,689.4 358.5,684.5 356.8,674.7 355.2,664.8 350.3,656.6 345.3,648.5 340.4,641.9 338.8,632.1 340.4,622.2 338.8,609.1 337.2,599.3"/>
<polygon fill="#c5e5f9" points="297.8,601 306,605.9 312.6,614.1 317.5,623.9 324.1,630.4 324.1,638.6 317.5,641.9 311,635.3 302.8,628.8 297.8,620.6 294.6,609.1"/>
<polygon fill="#c5e5f9" points="271.6,620.6 279.8,615.7 288,617.3 292.9,623.9 286.4,627.2 276.6,627.2"/>
<polygon fill="#c5e5f9" points="279.8,650.1 288,649.3 296.2,650.9 292.9,654.2 281.5,654.2"/>
<polygon fill="#c5e5f9" points="381.4,664.8 386.3,666.5 391.2,674.7 399.4,677.9 402.7,682.9 397.8,686.1 389.6,682.9 383,676.3"/>
<polygon fill="#c5e5f9" points="451.8,609.1 460,606.7 468.2,609.1 466.6,613.2 455.1,613.2"/>
<polygon fill="#c5e5f9" points="270,563.3 276.6,561.6 281.5,569.8 284.7,579.7 279.8,581.3 273.3,574.7"/>
</svg>
<svg x="420" y="560" width="200" height="150" viewBox="420 560 200 150" overflow="hidden">
<rect x="420" y="560" width="200" height="150" fill="#5cb2fa"/>
<polygon fill="#02f2f6" points="420,582.9 429.8,578 439.7,574.7 452.8,578 464.2,582.9 467.5,578 469.1,568.2 474.1,560 549.4,560 552.7,568.2 547.8,574.7 539.6,578 533,584.6 521.6,584.6 511.7,587.8 503.5,592.8 498.6,601 495.3,609.1 501.9,612.4 511.7,610.8 518.3,615.7 519.9,628.8 516.6,637 511.7,641.9 505.2,640.3 500.3,645.2 497,651.7 493.7,658.3 497,664.8 490.4,666.5 483.9,663.2 485.5,655 488.8,648.5 485.5,645.2 479,646.8 472.4,643.5 470.8,633.7 469.1,625.5 464.2,620.6 456,617.3 444.6,615.7 433.1,614.1 420,615.7"/>
<polygon fill="#5cb2fa" points="500.3,564.9 508.5,563.3 511.7,569.8 506.8,574.7 501.9,571.5"/>
<polygon fill="#c5e5f9" points="420,560 474.1,560 469.1,568.2 467.5,578 464.2,582.9 452.8,578 439.7,574.7 429.8,578 420,582.9"/>
<polygon fill="#c5e5f9" points="451.9,609.1 461,606.7 469.1,609.1 467.5,613.2 456,613.2"/>
<polygon fill="#c5e5f9" points="477.3,622.2 479.8,620.6 481.4,625.5 479,628.8"/>
<polygon fill="#02f2f6" points="461,648.5 465.9,646.8 468.3,651.7 463.4,654.2"/>
<polygon fill="#02f2f6" points="420,635.3 424.9,633.7 426.6,640.3 420,641.9"/>
<polygon fill="#02f2f6" points="420,687.8 428.2,686.1 436.4,691 438,700.9 433.1,710 420,710"/>
<polygon fill="#02f2f6" points="526.5,664.8 534.7,664.8 541.2,674.7 542.9,684.5 541.2,691 534.7,696 528.1,699.2 521.6,702.5 518.3,710 511.7,710 515,699.2 521.6,691 528.1,684.5 531.4,674.7"/>
<polygon fill="#4784c9" points="431.5,623.9 438,619.8 444.6,622.2 447.8,628.8 449.5,637 442.9,638.6 436.4,633.7 432.3,628.8"/>
<polygon fill="#4784c9" points="420,673 429.8,668.1 439.7,664.8 449.5,669.7 462.6,673 475.7,673 485.5,674.7 492.1,673 501.9,669.7 511.7,668.1 521.6,671.4 523.2,677.9 518.3,684.5 508.5,686.1 498.6,689.4 492.1,696 488.8,704.1 490.4,710 441.3,710 444.6,694.3 442.9,681.2 436.4,676.3 426.6,676.3 420,677.9"/>
<polygon fill="#4784c9" points="420,658.3 426.6,655 431.5,659.9 426.6,668.1 420,671.4"/>
<polygon fill="#d08cfb" points="451.9,681.2 475.7,680.4 472.4,687.8 471.6,699.2 474.1,710 459.3,710 455.2,700.9 451.9,689.4"/>
<polygon fill="#5cb2fa" points="503.5,677.9 518.3,677.1 518.3,681.2 505.2,682"/>
</svg>
<svg x="300" y="670" width="200" height="150" viewBox="300 670 200 150" overflow="hidden">
<rect x="300" y="670" width="200" height="150" fill="#5cb2fa"/>
<polygon fill="#4784c9" points="300,670 309.8,673.3 321.3,676.6 329.5,683.1 341,686.4 347.5,694.6 354.1,702.8 365.5,707.7 377,711 385.2,703.6 391.7,707.7 398.3,715.9 404.8,724.1 406.5,733.9 414.7,740.4 424.5,747 436,753.5 444.1,755.2 447.4,761.7 440.9,768.3 431,784.7 300,719.1"/>
<polygon fill="#4784c9" points="414.7,670 500,670 500,694.6 500,758.5 500,806 457.2,806 454,784.7 457.2,776.5 460.5,771.6 447.4,761.7 444.1,755.2 440.9,747 439.2,735.5 434.3,725.7 436,715.9 442.5,707.7 440.9,697.8 439.2,688 431,679.8 421.2,676.6 414.7,674.9"/>
<polygon fill="#5cb2fa" points="444.1,761.7 454,756.8 467.1,756.8 478.5,760.1 483.5,765 473.6,768.3 465.4,774.8 460.5,781.4 457.2,776.5 444.1,773.2 436,769.9"/>
<polygon fill="#5cb2fa" points="490,686.4 500,684.7 500,702.8 493.3,701.1"/>
<polygon fill="#d08cfb" points="326.2,701.1 336,697 345.9,694.6 347.5,702.8 346.7,709.3 341,709.3 327.8,705.2"/>
<polygon fill="#d08cfb" points="357.3,720.8 365.5,719.1 372.1,722.4 373.7,726.5 368.8,725.7 357.3,724.1"/>
<polygon fill="#d08cfb" points="396.6,722.4 399.9,719.1 403.2,725.7 402.4,734.7 398.3,732.2 396.6,727.3"/>
<polygon fill="#d08cfb" points="452.3,681.5 473.6,680.6 472,691.3 475.3,702.8 480.2,714.2 476.9,725.7 478.5,738.8 463.8,737.2 458.9,742.1 457.2,747 447.4,742.1 442.5,735.5 438.4,727.3 439.2,719.1 447.4,714.2 454,707.7 452.3,697.8 449.1,688"/>
<polygon fill="#d08cfb" points="478.5,711 488.4,709.3 500,712.6 500,747 491.6,745.3 481.8,751.9 473.6,747 463.8,745.3 460.5,742.1 463.8,737.2 478.5,738.8 476.9,725.7 480.2,714.2"/>
<polygon fill="#02f2f6" points="349.1,670 404.8,670 406.5,679.8 404.8,689.7 399.9,699.5 391.7,702.8 385.2,697.8 378.6,692.9 372.1,697.8 370.4,706 362.2,707.7 357.3,699.5 355.7,686.4 350.8,676.6"/>
<polygon fill="#c5e5f9" points="355.7,670 365.5,670 363.9,679.8 360.6,689.7 357.3,679.8"/>
<polygon fill="#c5e5f9" points="385.2,670 391.7,671.6 401.6,678.2 401.6,684.7 391.7,683.1 385.2,676.6"/>
<polygon fill="#5cb2fa" points="370.4,676.6 375.3,674.9 377,683.1 373.7,688 370.4,683.1"/>
<polygon fill="#02f2f6" points="408.1,686.4 417.9,683.1 431,684.7 439.2,691.3 437.6,702.8 431,711 432.7,722.4 434.3,732.2 429.4,738.8 421.2,735.5 417.9,725.7 414.7,715.9 406.5,711 404.8,701.1"/>
<polygon fill="#c5e5f9" points="422.9,692.9 426.9,692.1 427.8,696.2 423.7,697"/>
<polygon fill="#c5e5f9" points="409.7,705.2 414.7,704.4 415.5,709.3 411.4,710.1"/>
<polygon fill="#02f2f6" points="487.6,748.6 493.3,747 496.6,751.1 491.6,755.2"/>
</svg>
<svg x="420" y="670" width="200" height="150" viewBox="420 670 200 150" overflow="hidden">
<rect x="420" y="670" width="200" height="150" fill="#5cb2fa"/>
<polygon fill="#4784c9" points="420,672.9 426.6,670 449.5,670 462.6,672.9 492.1,672.9 501.9,670 541.2,670 521.6,673.3 518.3,683.1 508.5,686.4 497,688 492.1,694.6 495.3,702.8 501.9,711 508.5,717.5 510.1,729 510.1,740.4 508.5,751.9 505.2,761.7 500.3,771.6 498.6,778.1 505.2,784.7 510.1,792.9 508.5,801 459.3,802.7 457.7,791.2 462.6,781.4 469.1,773.2 480.6,766.6 485.5,758.5 482.2,753.5 474.1,751.9 462.6,748.6 452.8,750.3 444.6,753.5 442.9,760.1 428.2,758.5 420,751.9"/>
<polygon fill="#5cb2fa" points="420,676.6 426.6,676.6 436.4,679.8 442.9,688 449.5,697.8 452.8,707.7 451.1,714.2 441.3,717.5 436.4,724.1 438,735.5 441.3,745.3 433.1,750.3 420,748.6"/>
<polygon fill="#02f2f6" points="420,681.5 428.2,683.1 434.7,689.7 436.4,702.8 433.1,712.6 431.5,724.1 434.7,735.5 429.8,740.4 420,738.8"/>
<polygon fill="#c5e5f9" points="424.1,692.9 427.4,692.9 427.4,696.2 424.1,696.2"/>
<polygon fill="#c5e5f9" points="424.9,717.5 426.6,717.5 426.6,727.3 424.9,727.3"/>
<polygon fill="#d08cfb" points="452.3,681.5 473.6,680.6 471.9,691.3 475.2,702.8 480.1,714.2 476.8,725.7 478.5,738.8 463.7,737.2 458.8,742.1 457.2,747 447.4,742.1 442.4,735.5 438.3,727.3 439.2,719.1 447.4,714.2 453.9,707.7 452.3,697.8 449,688"/>
<polygon fill="#d08cfb" points="478.5,711 488.3,709.3 499.9,712.6 505.2,719.1 506.8,735.5 505.2,747 491.6,745.3 485.5,748.6 481.8,751.9 473.6,747 463.7,745.3 460.5,742.1 463.7,737.2 478.5,738.8 476.8,725.7 480.1,714.2"/>
<polygon fill="#d08cfb" points="539.6,730.6 546.1,727.3 549.4,735.5 547.8,740.4 541.2,745.3 537.9,751.9 533,750.3 534.7,742.1"/>
<polygon fill="#4784c9" points="528.1,707.7 534.7,704.4 539.6,712.6 541.2,724.1 537.9,735.5 533,745.3 533,751.9 539.6,758.5 546.1,761.7 549.4,769.9 544.5,774.8 537.9,768.3 531.4,761.7 526.5,748.6 524.8,735.5 524.8,719.1"/>
<polygon fill="#02f2f6" points="511.7,691.3 518.3,686.4 526.5,679.8 537.9,673.3 541.2,679.8 537.9,689.7 531.4,696.2 524.8,702.8 521.6,712.6 520.7,725.7 521.6,738.8 522.4,751.9 520.7,765 516.6,768.3 515.8,751.9 515,735.5 515,719.1 516.6,706 513.4,697.8"/>
<polygon fill="#02f2f6" points="516.6,787.9 524.8,786.3 528.1,791.2 521.6,794.5 516.6,792.9"/>
<polygon fill="#02f2f6" points="488.8,748.6 493.7,747.8 495.3,751.9 492.1,754.4 488.8,751.9"/>
<polygon fill="#5cb2fa" points="436.4,763.4 444.6,758.5 456,756.8 469.1,758.5 480.6,761.7 483.9,765 474.1,769.9 467.5,774.8 462.6,781.4 457.7,776.5 446.2,773.2 436.4,769.9"/>
<polygon fill="#5cb2fa" points="505.2,679 518.3,678.2 518.3,681.5 506.8,682.3"/>
</svg>
<svg x="230" y="530" width="100" height="150" viewBox="230 530 100 150" overflow="hidden">
<rect x="230" y="530" width="100" height="150" fill="#c5e5f9"/>
<polygon fill="#02f2f6" points="257.8,536.6 262.8,530 328.3,530 331.6,544.7 321.7,551.3 308.6,551.3 307,566 298.8,567.7 292.2,562.8 285.7,559.5 284.1,549.7 275.9,551.3 266,548 259.5,543.1"/>
<polygon fill="#02f2f6" points="258.7,567.7 267.7,557.8 277.5,561.1 285.7,567.7 287.3,579.1 280.8,582.4 274.2,574.2 266,571"/>
<polygon fill="#02f2f6" points="297.2,590.6 307,589 316.8,592.2 328.3,597.2 336.5,600.4 339.7,608.6 338.1,621.7 334.8,631.6 328.3,641.4 318.5,641.4 308.6,638.1 300.4,631.6 295.5,626.6 294.7,608.6"/>
<polygon fill="#5cb2fa" points="319.3,608.6 325.8,607.8 326.6,611.9 320.9,613.5"/>
<polygon fill="#c5e5f9" points="297.2,598.8 305.3,600.4 311.9,607 315.2,616.8 321.7,621.7 325,631.6 320.1,634.8 311.9,629.9 302.1,626.6 295.5,621.7 294.7,608.6"/>
<polygon fill="#02f2f6" points="230,626.6 239.8,621.7 251.3,615.2 262.8,607 271,603.7 279.1,607 280.8,611.9 275.9,615.2 272.6,621.7 277.5,628.3 285.7,629.9 293.9,628.3 298.8,634.8 305.3,643 307,649.6 302.1,656.1 295.5,661 279.1,662.7 269.3,659.4 262.8,651.2 259.5,641.4 254.6,631.6 246.4,631.6 236.6,636.5 230,641.4"/>
<polygon fill="#c5e5f9" points="272.6,621.7 277.5,616.8 285.7,618.5 292.2,623.4 293.9,628.3 285.7,629.9 277.5,628.3"/>
<polygon fill="#5cb2fa" points="230,641.4 236.6,636.5 246.4,631.6 254.6,631.6 259.5,641.4 262.8,651.2 269.3,659.4 279.1,662.7 295.5,661 302.1,656.1 307,649.6 308.6,644.7 318.5,643 328.3,643 334.8,634.8 341.4,628.3 350.1,634.8 350.1,680 230,680"/>
<polygon fill="#5cb2fa" points="279.1,636.5 289,635.7 295.5,638.1 292.2,641.4 280.8,641.4"/>
<polygon fill="#c5e5f9" points="280,650.4 287.3,649.2 295.5,650.4 293.9,653.2 281.6,653.7"/>
<polygon fill="#4784c9" points="274.2,666 284.1,663.5 295.5,664.3 302.1,669.2 311.9,672.5 321.7,670.9 331.6,674.1 350.1,674.1 350.1,680 271,680"/>
<polygon fill="#02f2f6" points="344.7,628.3 350.1,626.6 350.1,634.8 347.1,634.8"/>
</svg>
</g></g>
<g fill="none" stroke="#34414e" stroke-width="1.35" stroke-linejoin="round" clip-path="url(#clipL)" filter="url(#rough3)">
<polyline points="133,352 141,357.5 152,355 162,355 171,350 176,350 179,357.5 175.7,367.5 182,372.4 195.3,375.7 207,378 215,379 221.6,375.7 225,379 231.4,384 238,392 238,398.6 234.7,403.5 241,405 249.4,409.3"/>
<polyline points="249.4,409.3 257.6,406.8 267.4,402 277.2,400.3 290.4,400.3 300,401 313.4,402.7 315.7,404.4"/>
<polyline points="300.3,363.4 294.6,370.8 286.4,375.7 281.5,382.2 276.6,388.8 279.8,395.3 283,398.6 284,401"/>
<polyline points="315.7,404.4 311.6,408.5 305,415 301.7,421.5 297,426.5 297,434.7 292,441.2 287,446.6 283.8,454.7 287,461.3 297,466.2 305,471 306.7,482.6 303.5,494 301.8,507 283.8,510.4 274,512 264,505.5 256,500.6"/>
<polyline points="249.4,409.3 244.5,415 239.6,424.8 233,434.7 233,440 231.4,446.6 224.8,449.8 221.6,458 218.3,466.2 215,475.2 211.7,481 206.8,487.5 203.5,492.4 197,490.8 193.7,497.3 185.5,499.8 182.2,494.9 177.3,494 175.7,500.6 174,507.2 167.5,507.2"/>
<polyline points="256,500.6 249.4,503.9 241.2,508.8 233,512 229.7,518.6 226.5,525.2 218.3,531.7 216.6,538.3 208.5,539 205.2,543.2 197,544 190.4,544.8"/>
<polyline points="256,500.6 254.3,517 256,523.5 264,528.5 272.3,531.7 282,535 287,538.3 285.4,544.8 290.4,548 296,551.4 293.6,558 290.4,564.5 288.7,571 290,581 295,597.4 293.3,613.8 298.2,630.2 304.7,643.3 308,651.5 296.6,663 291.6,672.8 296.6,686 303,690.8"/>
<polyline points="290.4,564.5 294.6,566.6 300,568 304.4,578 310,585 315.9,591 319,588 320.8,581.3 328,579 335.5,579.7 344,577 353.5,575.6 356.8,581.3 355.5,588 358.5,594.4 364,602 371.6,610.8 378,616 383,618"/>
<polyline points="383,618 394.5,617.3 401,623.9 406,630.4 407.6,638.6 409.2,646.8 410.9,656.6 417.4,659 424,658.3 427.2,661.6 424,668 417.4,673 412.5,678 408,681 406,689.7 403.5,698 403.2,707.7 406.5,717.5 404.8,727.3 402.4,735.5 401,741"/>
<polyline points="383,618 384.7,607.5 383,596 388,591 391.2,583 397.8,578 406,576.4 410.9,569.8 412.5,566 415.8,556.3 420,555.2 425,556.8 429.8,553.5 434.7,547 439.7,555.2 447.8,555.2 457.7,554.4 467.5,553.5 474,558.5 480.6,560 485.5,559.3"/>
<polyline points="381.4,403 384.7,418.3 386.3,428 388,434.7 396,441.2 401,449.4 407.6,457.6 414,466 414,472.8 420,476.5 429.8,479.8 439.7,486.4 441.3,493 434.7,499.5 438,507.7 444.6,511 444.6,519 443,524 449.5,532.2 457.7,535.5 465.9,540.4 474,545.3 482.2,547 485.5,552 486.3,560 492,565 500.3,571.6 506.8,578 511.7,583 521.6,584.7 529.7,588 534,587"/>
<polyline points="598.5,483 590.3,484 580.5,484.7 567.4,484.7 557.6,486.4 556,491.3 562.5,493 559.2,499.5 556,506 552.7,512.6 554.3,522.4 557.6,532.2 562.5,538.8 570.7,545.3 575.6,552 577,556"/>
<polyline points="530,657 528,660 521.6,666.5 515,669.7 505.2,671.4 497,674.7 490.4,673 485.5,678 480.6,681.2 472.4,684.5 472.4,690 474,694.6 477.3,704.4 480.6,714.2 477.3,722.4 475.7,729 477.3,737 467.5,735.5 461,737 460,742 457.7,747 451,748.6 444.6,752 443,760 440,765"/>
</g>
<polygon points="137.3,243.2 143.6,241.6 150.6,244 155.1,242.4 160.4,244.8 166.7,245.7 172,241.6 177.3,242.4 183.5,239.2 187.9,234.4 193.2,232.8 198.5,228.8 205.7,227.1 211.9,222.3 218.2,223.1 223.5,227.1 225.3,229.6 231.7,228.7 240.3,222.9 248.7,220 259.3,222 267.9,226.8 273.2,230.6 277.4,226.8 281.8,217.1 286,212.3 293.5,209.4 304.1,212.3 310.5,210.4 319,210.4 323.3,217.1 327.5,220 333.9,216.2 341.4,216.2 341.4,224.8 348.8,227.8 359.5,226.8 366.9,231.6 371.2,237.4 369,246.1 365.9,254.8 358.4,249.9 350.9,251.9 344.5,257.7 336.1,261.5 329.7,263.5 331.7,267.3 340.3,271.2 333.9,275 329.7,282.7 323.3,289.5 316.9,294.3 310.5,295.3 304.1,293.3 297.7,290.5 290.2,291.5 288.2,298.2 287.1,305.9 282.8,311.7 276.5,315.5 278.5,323.3 279.6,331.1 275.4,338.7 273.2,348.3 274.3,358.1 282.8,355.1 293.5,354.1 299.9,358.1 304.1,364.8 310.5,367.7 314.7,364.8 323.3,369.7 331.7,373.5 334.2,375.7 338.7,381.3 344,386.9 349.3,391.7 353.7,397.4 359.1,401.4 363.5,401.4 366.2,407 370.7,407.8 375,405.4 376.8,399.7 378.6,395.7 383,393.3 388.3,394.1 393.6,391.7 396.3,386.9 400.8,384.5 403.5,388.5 408.8,390.9 412.3,394.9 415.9,398.9 422.1,399.7 427.4,397.4 432.8,394.9 438.1,393.3 439.8,390.1 444.2,390.1 448.7,393.3 452.3,397.4 457.6,397.4 462.9,395.7 468.2,397.4 471.8,399.7 472.6,405.4 475.4,407.8 479.8,405.4 484.2,402.2 489.6,401.4 496.7,401.4 501,401.4 505.5,403.8 510.9,404.6 518,404.6 523.3,405.4 528.8,406.2 534.4,410.2 539.7,409.5 544.2,412.7 549.5,411.8 556.6,411 563.7,411 569.1,412.7 574.4,415.9 579.7,417.5 585,420.8 590.4,423.1 594.8,423.9 594.8,430.4 593.9,437.7 593.1,444.8 591.2,450.5 588.6,456.1 587.8,461.7 585.9,467.4 588.6,472.3 592.2,476.3 597.5,477.1 601,473.8 606.4,472.3 609.9,468.2 613.4,467.4 618.8,469 624.1,471.5 629.5,473 636.5,473.8 643.7,474.6 649,477.1 654.3,478.6 657.9,482.7 663.2,485.1 668.5,487.5 673.8,490.7 678.3,494.8 681.8,498 683.6,502.8 687.1,506.8 689.7,511.7 691.6,518.1 692.7,523.1 690,527 689.1,531 692.7,534.3 696.1,537.5 699.7,541.5 702.4,544.8 699.7,548.8 695.3,551.9 692.7,555.2 688.2,556.8 684.7,556 680.2,552.8 674,553.6 671.3,557.6 667.7,561.7 663.3,564 659.8,566.5 658,570.5 652.7,570.5 647.4,568.8 642.9,566.5 641.2,562.5 634.9,562.5 630.5,558.4 622.5,556.8 615.4,557.6 610.1,559.2 603,561.7 595.9,560.8 588.7,559.2 581.7,558.4 577.2,555.2 572.8,552.8 565.8,553.6 558.6,555.2 551.6,556 548,558.4 548.8,563.2 551.6,567.3 552.4,571.3 548,574.5 541.7,576.9 537.2,579.4 533.8,584.2 530.2,588.2 528.5,593.8 524,598.6 523,603.5 521.3,609.9 517.7,613.9 516.9,619.5 518.6,625.2 519.6,630.2 516.9,635.1 513.1,640 518.4,642.4 522.8,645.6 524.7,650.4 527.3,655.3 530.9,658.5 538,660.9 544.2,662.5 545,665.7 541.5,670.5 539.7,677 541.5,682.6 545.9,688.2 549.5,692.3 545.9,696.3 542.3,702 539.7,707.6 539.4,714 541.5,719.7 545.9,724.5 548.6,729.3 550,734.9 548.6,740.6 545,745.4 540.6,748.7 538.9,751.8 544.2,755 546.8,759.9 547.8,764.7 552.2,768.7 553.9,773.6 550.3,776.3 545.3,778 541.5,781.4 542.1,785.9 541.5,789.2 544.6,791.5 543.4,794.3 540.3,796.6 536.6,796 531.6,796.6 527.8,798.3 521.6,798.9 516.7,799.9 511.7,799.4 506.7,799.9 501.7,799.4 495.5,801.1 491.8,802.8 485.5,803.4 479.4,802.8 473.2,802.2 466.9,801.6 461.9,800.5 457.6,798.9 458.2,794.9 459.5,791.5 455.7,789.8 451.4,788.2 450.2,785.3 453.2,783 456.4,781.4 455.1,776.9 452.6,773.5 447.1,772.9 439.8,771.6 434.5,769.3 435.4,764.4 431.9,759.6 425.6,755.5 418.6,751.5 412.3,747.5 407,742.7 400.8,738.6 395.5,733.8 388.3,730.6 381.3,727.4 374.1,726.5 367.1,725 359.1,725 352.9,722.6 347.6,717.7 343.1,712.9 336.8,708.9 329.8,707.3 324.5,704 320,699.2 317.3,693.6 312,692 315.9,692.1 308.9,691.3 301.7,692.1 295.5,690.5 290.2,685.7 283.9,681.6 278.6,677.6 273.3,673.6 266.3,671.1 260,667.1 255.5,663.1 256.5,658.3 253.8,652.7 249.4,649.4 245.8,645.4 241.3,647.1 234.3,648.6 229.9,650.2 225.4,647.1 220.1,649.4 214.8,650.2 211.2,653.4 205.9,655.9 200.6,654.2 195.2,651.1 190.7,647.8 187.3,644.6 183.7,645.4 179.2,648.6 176.5,651.9 173.1,656.7 169.5,659 163.3,654.2 165.9,651.9 169.5,648.6 167.8,643 163.3,638.1 158.9,633.3 155.3,629.3 154.4,625.2 150.8,620.4 149.1,615.6 154.4,612.4 153.6,606.8 151.7,600.4 156.2,597.9 161.5,599.5 167.8,601.2 171.2,599.5 177.5,596.4 181,592.3 186.4,589.9 189.9,586.6 194.3,584.3 196.2,581 196.6,578.4 194.9,573.6 190.4,569.5 186.8,564.7 184.2,559.9 178.9,555.9 172.6,554.2 169.1,551 173.5,548.6 180.7,551.8 187.7,553.4 192.1,551.8 193.1,546.9 188.7,543.8 189.5,537.3 186.8,530.9 181.5,528.5 185.1,526.1 184.2,520.4 180.7,514.8 175.3,510 168.2,507.5 161.1,505.2 154,506 154.9,501.1 153.1,495.4 150.5,489.1 146.9,482.6 141.6,477.8 139.8,472.9 146.9,466 153.1,461 154,454.7 154.9,448.2 158.4,443.4 156.7,438.5 153.1,432.2 149.5,425.7 147.8,417.6 146.9,409.6 148.7,401.5 147.8,395.1 150.5,390.3 147.8,385.5 139.8,387.8 140.7,383 132.7,379.8 130.9,375 126.5,370.9 131.9,366.1 133.6,359.6 134.5,351.7 136.4,349.4 141.7,344.6 146.2,339.8 148,335.8 143.6,332.5 146.2,331 152.5,327.7 157.8,327.7 162.2,325.3 164.8,322.1 164,317.3 160.4,313.3 155.1,309.2 149.8,306.8 142.7,303.5 138.3,299.5 139.1,293.1 140,285.1 139.1,277 135.6,270.6 137.3,264.1 135.6,257.8 134.7,249.7" fill="none" stroke="#141c28" stroke-width="3.25" stroke-linejoin="round" filter="url(#rough)"/>
<g font-family='"Liberation Sans","Noto Sans CJK SC",sans-serif' font-size="12" fill="#2c3c4c" text-anchor="middle" filter="url(#soft)" opacity="0.8">
<text x="246" y="309.5" textLength="24.5" lengthAdjust="spacingAndGlyphs">宁陕</text>
<text x="180" y="429" textLength="24.5" lengthAdjust="spacingAndGlyphs">石泉</text>
<text x="248.5" y="478" textLength="24.5" lengthAdjust="spacingAndGlyphs">汉阴</text>
<text x="484.5" y="477.5" textLength="24.5" lengthAdjust="spacingAndGlyphs">旬阳</text>
<text x="615.5" y="521.5" textLength="24.5" lengthAdjust="spacingAndGlyphs">白河</text>
<text x="358.5" y="510" textLength="24.5" lengthAdjust="spacingAndGlyphs">汉滨</text>
<text x="239.5" y="589.5" textLength="24.5" lengthAdjust="spacingAndGlyphs">紫阳</text>
<text x="345.5" y="641" textLength="24.5" lengthAdjust="spacingAndGlyphs">岚皋</text>
<text x="446.5" y="643.5" textLength="24.5" lengthAdjust="spacingAndGlyphs">平利</text>
<text x="497.5" y="734" textLength="24.5" lengthAdjust="spacingAndGlyphs">镇坪</text>
</g>
</g>
<g font-family='"Liberation Sans","Noto Sans CJK SC",sans-serif' fill="#4a4a4a" font-weight="500" filter="url(#soft)">
<text x="125" y="79.5" font-size="30" textLength="359" lengthAdjust="spacingAndGlyphs">安康市最低温预报图（℃）</text>
<text x="125" y="117.5" font-size="24.5" textLength="344" lengthAdjust="spacingAndGlyphs">2026年1月29日08时-2月1日08时</text>
<text x="125" y="157.5" font-size="24.5" textLength="270" lengthAdjust="spacingAndGlyphs">2026年01月27日11时发布</text>
<text x="125" y="199.5" font-size="27" textLength="200" lengthAdjust="spacingAndGlyphs">安康市气象台 制</text>
</g>
<g filter="url(#soft)">
<rect x="711.5" y="124.50" width="17.8" height="27.47" fill="#a00a1a"/>
<rect x="711.5" y="151.67" width="17.8" height="27.47" fill="#dc0a14"/>
<rect x="711.5" y="178.84" width="17.8" height="27.47" fill="#ff2a0a"/>
<rect x="711.5" y="206.02" width="17.8" height="27.47" fill="#ff4a08"/>
<rect x="711.5" y="233.19" width="17.8" height="27.47" fill="#ff6c08"/>
<rect x="711.5" y="260.36" width="17.8" height="27.47" fill="#ff8e08"/>
<rect x="711.5" y="287.53" width="17.8" height="27.47" fill="#ffaa08"/>
<rect x="711.5" y="314.70" width="17.8" height="27.47" fill="#ffca08"/>
<rect x="711.5" y="341.88" width="17.8" height="27.47" fill="#e6f010"/>
<rect x="711.5" y="369.05" width="17.8" height="27.47" fill="#c6f808"/>
<rect x="711.5" y="396.22" width="17.8" height="27.47" fill="#a0f208"/>
<rect x="711.5" y="423.39" width="17.8" height="27.47" fill="#78f000"/>
<rect x="711.5" y="450.56" width="17.8" height="27.47" fill="#1ae81a"/>
<rect x="711.5" y="477.74" width="17.8" height="27.47" fill="#0af052"/>
<rect x="711.5" y="504.91" width="17.8" height="27.47" fill="#0af0a2"/>
<rect x="711.5" y="532.08" width="17.8" height="27.47" fill="#c2e2f8"/>
<rect x="711.5" y="559.25" width="17.8" height="27.47" fill="#00f6f8"/>
<rect x="711.5" y="586.42" width="17.8" height="27.47" fill="#5ab2f8"/>
<rect x="711.5" y="613.60" width="17.8" height="27.47" fill="#3e82c8"/>
<rect x="711.5" y="640.77" width="17.8" height="27.47" fill="#d892f8"/>
<rect x="711.5" y="667.94" width="17.8" height="27.47" fill="#b054f8"/>
<rect x="711.5" y="695.11" width="17.8" height="27.47" fill="#a002c8"/>
<rect x="711.5" y="722.28" width="17.8" height="27.47" fill="#5200f8"/>
<rect x="711.5" y="749.46" width="17.8" height="27.47" fill="#50007c"/>
<rect x="711.5" y="776.63" width="17.8" height="27.47" fill="#0a0a3c"/>
<line x1="711.5" x2="729.3" y1="151.67" y2="151.67" stroke="#101010" stroke-opacity="0.35" stroke-width="1"/>
<line x1="711.5" x2="729.3" y1="178.84" y2="178.84" stroke="#101010" stroke-opacity="0.75" stroke-width="1"/>
<line x1="711.5" x2="729.3" y1="206.02" y2="206.02" stroke="#101010" stroke-opacity="0.35" stroke-width="1"/>
<line x1="711.5" x2="729.3" y1="233.19" y2="233.19" stroke="#101010" stroke-opacity="0.75" stroke-width="1"/>
<line x1="711.5" x2="729.3" y1="260.36" y2="260.36" stroke="#101010" stroke-opacity="0.35" stroke-width="1"/>
<line x1="711.5" x2="729.3" y1="287.53" y2="287.53" stroke="#101010" stroke-opacity="0.75" stroke-width="1"/>
<line x1="711.5" x2="729.3" y1="314.70" y2="314.70" stroke="#101010" stroke-opacity="0.35" stroke-width="1"/>
<line x1="711.5" x2="729.3" y1="341.88" y2="341.88" stroke="#101010" stroke-opacity="0.75" stroke-width="1"/>
<line x1="711.5" x2="729.3" y1="369.05" y2="369.05" stroke="#101010" stroke-opacity="0.35" stroke-width="1"/>
<line x1="711.5" x2="729.3" y1="396.22" y2="396.22" stroke="#101010" stroke-opacity="0.75" stroke-width="1"/>
<line x1="711.5" x2="729.3" y1="423.39" y2="423.39" stroke="#101010" stroke-opacity="0.35" stroke-width="1"/>
<line x1="711.5" x2="729.3" y1="450.56" y2="450.56" stroke="#101010" stroke-opacity="0.75" stroke-width="1"/>
<line x1="711.5" x2="729.3" y1="477.74" y2="477.74" stroke="#101010" stroke-opacity="0.35" stroke-width="1"/>
<line x1="711.5" x2="729.3" y1="504.91" y2="504.91" stroke="#101010" stroke-opacity="0.75" stroke-width="1"/>
<line x1="711.5" x2="729.3" y1="532.08" y2="532.08" stroke="#101010" stroke-opacity="0.35" stroke-width="1"/>
<line x1="711.5" x2="729.3" y1="559.25" y2="559.25" stroke="#101010" stroke-opacity="0.75" stroke-width="1"/>
<line x1="711.5" x2="729.3" y1="586.42" y2="586.42" stroke="#101010" stroke-opacity="0.35" stroke-width="1"/>
<line x1="711.5" x2="729.3" y1="613.60" y2="613.60" stroke="#101010" stroke-opacity="0.75" stroke-width="1"/>
<line x1="711.5" x2="729.3" y1="640.77" y2="640.77" stroke="#101010" stroke-opacity="0.35" stroke-width="1"/>
<line x1="711.5" x2="729.3" y1="667.94" y2="667.94" stroke="#101010" stroke-opacity="0.75" stroke-width="1"/>
<line x1="711.5" x2="729.3" y1="695.11" y2="695.11" stroke="#101010" stroke-opacity="0.35" stroke-width="1"/>
<line x1="711.5" x2="729.3" y1="722.28" y2="722.28" stroke="#101010" stroke-opacity="0.75" stroke-width="1"/>
<line x1="711.5" x2="729.3" y1="749.46" y2="749.46" stroke="#101010" stroke-opacity="0.35" stroke-width="1"/>
<line x1="711.5" x2="729.3" y1="776.63" y2="776.63" stroke="#101010" stroke-opacity="0.75" stroke-width="1"/>
<rect x="711.5" y="124.5" width="17.8" height="679.3" fill="none" stroke="#181818" stroke-opacity="0.75" stroke-width="1.1"/>
<rect x="709" y="393" width="2.6" height="13" fill="#15202a"/>
</g>
<g font-family='"Liberation Sans","Noto Sans CJK SC",sans-serif' font-size="12" fill="#585858" filter="url(#soft)">
<text x="737" y="155.2">38</text>
<text x="737" y="182.3">35</text>
<text x="737" y="209.5">32</text>
<text x="737" y="236.7">30</text>
<text x="737" y="263.9">28</text>
<text x="737" y="291.0">26</text>
<text x="737" y="318.2">24</text>
<text x="737" y="345.4">20</text>
<text x="737" y="372.5">16</text>
<text x="737" y="399.7">12</text>
<text x="737" y="426.9">8</text>
<text x="737" y="454.1">6</text>
<text x="737" y="481.2">4</text>
<text x="737" y="508.4">2</text>
<text x="737" y="535.6">0</text>
<text x="737" y="562.8">-2</text>
<text x="737" y="589.9">-4</text>
<text x="737" y="617.1">-6</text>
<text x="737" y="644.3">-8</text>
<text x="737" y="671.4">-12</text>
<text x="737" y="698.6">-16</text>
<text x="737" y="725.8">-24</text>
<text x="737" y="753.0">-32</text>
<text x="737" y="780.1">-40</text>
<text x="711.5" y="104.5" font-size="12.5" fill="#3a3a3a" font-weight="500" textLength="58" lengthAdjust="spacingAndGlyphs">单位: °c</text>
</g>
<text x="648.5" y="354" font-family='"Liberation Serif","Noto Serif CJK SC",serif' font-size="13.5" fill="#000" textLength="29.5" lengthAdjust="spacingAndGlyphs">白 河</text>
<g id="rightmap">
<g clip-path="url(#clipR)">
<rect x="860" y="150" width="560" height="630" fill="#c9c9c9"/>
<g shape-rendering="crispEdges">
<path fill="#a5f08c" d="M910.19 247.9h6.07v6.9h-6.07zM904.12 254.8h12.14v6.9h-12.14zM904.12 261.7h12.14v6.9h-12.14zM898.05 268.6h12.14v6.9h-12.14zM898.05 275.5h6.07v6.9h-6.07zM898.05 282.4h6.07v6.9h-6.07zM855.56 316.9h42.49v6.9h-42.49zM855.56 323.8h48.56v6.9h-48.56zM855.56 330.7h54.63v6.9h-54.63zM855.56 337.6h66.77v6.9h-66.77zM855.56 344.5h78.91v6.9h-78.91zM855.56 351.4h84.98v6.9h-84.98zM855.56 358.3h97.12v6.9h-97.12zM855.56 365.2h103.19v6.9h-103.19zM855.56 372.1h121.4v6.9h-121.4zM855.56 379h127.47v6.9h-127.47zM1080.15 379h24.28v6.9h-24.28zM855.56 385.9h267.08v6.9h-267.08zM855.56 392.8h321.71v6.9h-321.71zM855.56 399.7h333.85v6.9h-333.85zM1292.6 399.7h6.07v6.9h-6.07zM855.56 406.6h352.06v6.9h-352.06zM1292.6 406.6h6.07v6.9h-6.07zM855.56 413.5h364.2v6.9h-364.2zM1292.6 413.5h6.07v6.9h-6.07zM855.56 420.4h382.41v6.9h-382.41zM855.56 427.3h24.28v6.9h-24.28zM891.98 427.3h78.91v6.9h-78.91zM995.17 427.3h273.15v6.9h-273.15zM855.56 434.2h18.21v6.9h-18.21zM898.05 434.2h72.84v6.9h-72.84zM995.17 434.2h267.08v6.9h-267.08zM1298.67 434.2h6.07v6.9h-6.07zM855.56 441.1h30.35v6.9h-30.35zM898.05 441.1h72.84v6.9h-72.84zM995.17 441.1h261.01v6.9h-261.01zM1359.37 441.1h12.14v6.9h-12.14zM855.56 448h36.42v6.9h-36.42zM904.12 448h66.77v6.9h-66.77zM1001.24 448h248.87v6.9h-248.87zM1347.23 448h30.35v6.9h-30.35zM855.56 454.9h36.42v6.9h-36.42zM904.12 454.9h66.77v6.9h-66.77zM1001.24 454.9h248.87v6.9h-248.87zM1347.23 454.9h42.49v6.9h-42.49zM855.56 461.8h115.33v6.9h-115.33zM995.17 461.8h254.94v6.9h-254.94zM1365.44 461.8h18.21v6.9h-18.21zM855.56 468.7h127.47v6.9h-127.47zM995.17 468.7h254.94v6.9h-254.94zM855.56 475.6h394.55v6.9h-394.55zM855.56 482.5h388.48v6.9h-388.48zM855.56 489.4h370.27v6.9h-370.27zM855.56 496.3h364.2v6.9h-364.2zM855.56 503.2h358.13v6.9h-358.13zM1389.72 503.2h6.07v6.9h-6.07zM855.56 510.1h60.7v6.9h-60.7zM928.4 510.1h285.29v6.9h-285.29zM855.56 517h72.84v6.9h-72.84zM934.47 517h279.22v6.9h-279.22zM855.56 523.9h72.84v6.9h-72.84zM934.47 523.9h279.22v6.9h-279.22zM855.56 530.8h358.13v6.9h-358.13zM855.56 537.7h358.13v6.9h-358.13zM940.54 544.6h267.08v6.9h-267.08zM952.68 551.5h248.87v6.9h-248.87zM976.96 558.4h6.07v6.9h-6.07zM995.17 558.4h188.17v6.9h-188.17zM995.17 565.3h6.07v6.9h-6.07zM1007.31 565.3h121.4v6.9h-121.4zM1159.06 565.3h12.14v6.9h-12.14zM1007.31 572.2h97.12v6.9h-97.12zM1159.06 572.2h18.21v6.9h-18.21zM1025.52 579.1h6.07v6.9h-6.07zM1037.66 579.1h72.84v6.9h-72.84zM1159.06 579.1h18.21v6.9h-18.21zM1037.66 586h78.91v6.9h-78.91zM1165.13 586h12.14v6.9h-12.14zM1049.8 592.9h72.84v6.9h-72.84zM1055.87 599.8h66.77v6.9h-66.77zM1068.01 606.7h60.7v6.9h-60.7zM1080.15 613.6h48.56v6.9h-48.56zM1098.36 620.5h18.21v6.9h-18.21zM1165.13 620.5h6.07v6.9h-6.07z"/>
<path fill="#fdbaf2" d="M1055.87 213.4h6.07v6.9h-6.07zM910.19 241h6.07v6.9h-6.07zM904.12 247.9h6.07v6.9h-6.07zM916.26 247.9h6.07v6.9h-6.07zM898.05 254.8h6.07v6.9h-6.07zM916.26 254.8h6.07v6.9h-6.07zM898.05 261.7h6.07v6.9h-6.07zM910.19 268.6h6.07v6.9h-6.07zM904.12 275.5h18.21v6.9h-18.21zM861.63 282.4h36.42v6.9h-36.42zM904.12 282.4h18.21v6.9h-18.21zM855.56 289.3h72.84v6.9h-72.84zM855.56 296.2h72.84v6.9h-72.84zM855.56 303.1h72.84v6.9h-72.84zM855.56 310h78.91v6.9h-78.91zM898.05 316.9h42.49v6.9h-42.49zM904.12 323.8h42.49v6.9h-42.49zM910.19 330.7h48.56v6.9h-48.56zM922.33 337.6h48.56v6.9h-48.56zM934.47 344.5h42.49v6.9h-42.49zM940.54 351.4h42.49v6.9h-42.49zM952.68 358.3h36.42v6.9h-36.42zM958.75 365.2h60.7v6.9h-60.7zM1049.8 365.2h18.21v6.9h-18.21zM976.96 372.1h103.19v6.9h-103.19zM983.03 379h97.12v6.9h-97.12zM879.84 427.3h12.14v6.9h-12.14zM970.89 427.3h24.28v6.9h-24.28zM1268.32 427.3h6.07v6.9h-6.07zM873.77 434.2h24.28v6.9h-24.28zM970.89 434.2h24.28v6.9h-24.28zM1262.25 434.2h36.42v6.9h-36.42zM885.91 441.1h12.14v6.9h-12.14zM983.03 441.1h12.14v6.9h-12.14zM1256.18 441.1h66.77v6.9h-66.77zM891.98 448h12.14v6.9h-12.14zM995.17 448h6.07v6.9h-6.07zM1250.11 448h97.12v6.9h-97.12zM891.98 454.9h12.14v6.9h-12.14zM995.17 454.9h6.07v6.9h-6.07zM1250.11 454.9h97.12v6.9h-97.12zM1250.11 461.8h115.33v6.9h-115.33zM1250.11 468.7h139.61v6.9h-139.61zM1250.11 475.6h151.75v6.9h-151.75zM1347.23 482.5h48.56v6.9h-48.56zM1225.83 489.4h6.07v6.9h-6.07zM1219.76 496.3h12.14v6.9h-12.14zM1213.69 503.2h12.14v6.9h-12.14zM916.26 510.1h12.14v6.9h-12.14zM1213.69 510.1h6.07v6.9h-6.07zM1292.6 510.1h42.49v6.9h-42.49zM928.4 517h6.07v6.9h-6.07zM1213.69 517h6.07v6.9h-6.07zM1292.6 517h42.49v6.9h-42.49zM928.4 523.9h6.07v6.9h-6.07zM1201.55 551.5h6.07v6.9h-6.07zM970.89 558.4h6.07v6.9h-6.07zM983.03 558.4h12.14v6.9h-12.14zM1183.34 558.4h18.21v6.9h-18.21zM983.03 565.3h12.14v6.9h-12.14zM1001.24 565.3h6.07v6.9h-6.07zM1128.71 565.3h30.35v6.9h-30.35zM1171.2 565.3h30.35v6.9h-30.35zM1001.24 572.2h6.07v6.9h-6.07zM1104.43 572.2h54.63v6.9h-54.63zM1177.27 572.2h24.28v6.9h-24.28zM1031.59 579.1h6.07v6.9h-6.07zM1110.5 579.1h48.56v6.9h-48.56zM1177.27 579.1h18.21v6.9h-18.21zM1025.52 586h12.14v6.9h-12.14zM1116.57 586h48.56v6.9h-48.56zM1177.27 586h18.21v6.9h-18.21zM1122.64 592.9h60.7v6.9h-60.7zM1189.41 592.9h6.07v6.9h-6.07zM1122.64 599.8h36.42v6.9h-36.42zM1128.71 606.7h24.28v6.9h-24.28zM1128.71 613.6h24.28v6.9h-24.28zM1165.13 613.6h6.07v6.9h-6.07zM1116.57 620.5h30.35v6.9h-30.35zM1159.06 620.5h6.07v6.9h-6.07zM1171.2 620.5h12.14v6.9h-12.14zM1110.5 627.4h36.42v6.9h-36.42zM1116.57 634.3h30.35v6.9h-30.35zM1134.78 641.2h6.07v6.9h-6.07z"/>
<path fill="#a7a7a7" d="M1250.11 482.5h97.12v6.9h-97.12zM1395.79 482.5h12.14v6.9h-12.14zM1256.18 489.4h127.47v6.9h-127.47zM1401.86 489.4h6.07v6.9h-6.07zM1262.25 496.3h24.28v6.9h-24.28zM1322.95 496.3h36.42v6.9h-36.42zM1268.32 503.2h18.21v6.9h-18.21zM1347.23 503.2h12.14v6.9h-12.14zM1280.46 510.1h6.07v6.9h-6.07zM1280.46 517h12.14v6.9h-12.14zM1280.46 523.9h66.77v6.9h-66.77zM1280.46 530.8h78.91v6.9h-78.91zM964.82 592.9h36.42v6.9h-36.42zM1183.34 592.9h6.07v6.9h-6.07zM940.54 599.8h78.91v6.9h-78.91zM1159.06 599.8h42.49v6.9h-42.49zM879.84 606.7h157.82v6.9h-157.82zM1152.99 606.7h54.63v6.9h-54.63zM879.84 613.6h169.96v6.9h-169.96zM1152.99 613.6h12.14v6.9h-12.14zM1171.2 613.6h42.49v6.9h-42.49zM879.84 620.5h182.1v6.9h-182.1zM1146.92 620.5h12.14v6.9h-12.14zM1183.34 620.5h30.35v6.9h-30.35zM879.84 627.4h194.24v6.9h-194.24zM1146.92 627.4h78.91v6.9h-78.91zM879.84 634.3h212.45v6.9h-212.45zM1146.92 634.3h24.28v6.9h-24.28zM1183.34 634.3h54.63v6.9h-54.63zM879.84 641.2h254.94v6.9h-254.94zM1140.85 641.2h36.42v6.9h-36.42zM1195.48 641.2h78.91v6.9h-78.91zM879.84 648.1h291.36v6.9h-291.36zM1201.55 648.1h72.84v6.9h-72.84zM879.84 655h291.36v6.9h-291.36zM1207.62 655h66.77v6.9h-66.77zM879.84 661.9h291.36v6.9h-291.36zM1207.62 661.9h66.77v6.9h-66.77zM879.84 668.8h291.36v6.9h-291.36zM1207.62 668.8h66.77v6.9h-66.77zM879.84 675.7h206.38v6.9h-206.38zM1177.27 675.7h6.07v6.9h-6.07zM1195.48 675.7h78.91v6.9h-78.91zM879.84 682.6h206.38v6.9h-206.38zM1177.27 682.6h48.56v6.9h-48.56zM1231.9 682.6h42.49v6.9h-42.49zM879.84 689.5h206.38v6.9h-206.38zM1183.34 689.5h42.49v6.9h-42.49zM1231.9 689.5h42.49v6.9h-42.49zM879.84 696.4h206.38v6.9h-206.38zM1183.34 696.4h91.05v6.9h-91.05zM879.84 703.3h212.45v6.9h-212.45zM1189.41 703.3h30.35v6.9h-30.35zM1237.97 703.3h36.42v6.9h-36.42zM879.84 710.2h218.52v6.9h-218.52zM1195.48 710.2h24.28v6.9h-24.28zM1237.97 710.2h36.42v6.9h-36.42zM879.84 717.1h224.59v6.9h-224.59zM1207.62 717.1h12.14v6.9h-12.14zM1237.97 717.1h36.42v6.9h-36.42zM879.84 724h236.73v6.9h-236.73zM879.84 730.9h242.8v6.9h-242.8zM879.84 737.8h248.87v6.9h-248.87zM879.84 744.7h254.94v6.9h-254.94zM879.84 751.6h273.15v6.9h-273.15zM1237.97 751.6h24.28v6.9h-24.28zM879.84 758.5h273.15v6.9h-273.15zM879.84 765.4h279.22v6.9h-279.22zM879.84 772.3h279.22v6.9h-279.22zM1268.32 772.3h6.07v6.9h-6.07zM879.84 779.2h394.55v6.9h-394.55zM879.84 786.1h394.55v6.9h-394.55z"/>
<path fill="#808080" d="M1171.2 634.3h12.14v6.9h-12.14zM1177.27 641.2h18.21v6.9h-18.21zM1171.2 648.1h30.35v6.9h-30.35zM1171.2 655h36.42v6.9h-36.42zM1171.2 661.9h36.42v6.9h-36.42zM1171.2 668.8h36.42v6.9h-36.42zM1086.22 675.7h91.05v6.9h-91.05zM1183.34 675.7h12.14v6.9h-12.14zM1086.22 682.6h91.05v6.9h-91.05zM1086.22 689.5h97.12v6.9h-97.12zM1086.22 696.4h97.12v6.9h-97.12zM1092.29 703.3h97.12v6.9h-97.12zM1098.36 710.2h97.12v6.9h-97.12zM1104.43 717.1h103.19v6.9h-103.19zM1116.57 724h36.42v6.9h-36.42zM1183.34 724h36.42v6.9h-36.42zM1122.64 730.9h24.28v6.9h-24.28zM1195.48 730.9h24.28v6.9h-24.28zM1128.71 737.8h24.28v6.9h-24.28zM1134.78 744.7h18.21v6.9h-18.21z"/>
<path fill="#4f4f4f" d="M1262.25 358.3h30.35v6.9h-30.35zM1262.25 365.2h36.42v6.9h-36.42zM1268.32 372.1h36.42v6.9h-36.42zM1274.39 379h36.42v6.9h-36.42zM1280.46 385.9h24.28v6.9h-24.28zM1292.6 392.8h6.07v6.9h-6.07zM1383.65 489.4h18.21v6.9h-18.21zM1286.53 496.3h36.42v6.9h-36.42zM1359.37 496.3h48.56v6.9h-48.56zM1286.53 503.2h60.7v6.9h-60.7zM1359.37 503.2h30.35v6.9h-30.35zM1395.79 503.2h12.14v6.9h-12.14zM1286.53 510.1h6.07v6.9h-6.07zM1335.09 510.1h72.84v6.9h-72.84zM1335.09 517h24.28v6.9h-24.28zM1347.23 523.9h12.14v6.9h-12.14zM1152.99 724h30.35v6.9h-30.35zM1219.76 724h54.63v6.9h-54.63zM1146.92 730.9h48.56v6.9h-48.56zM1219.76 730.9h54.63v6.9h-54.63zM1152.99 737.8h121.4v6.9h-121.4zM1152.99 744.7h121.4v6.9h-121.4zM1152.99 751.6h84.98v6.9h-84.98zM1262.25 751.6h12.14v6.9h-12.14zM1152.99 758.5h121.4v6.9h-121.4zM1159.06 765.4h115.33v6.9h-115.33zM1159.06 772.3h109.26v6.9h-109.26z"/>
<path fill="#d2d2d2" d="M1225.83 682.6h6.07v6.9h-6.07zM1225.83 689.5h6.07v6.9h-6.07zM1219.76 703.3h18.21v6.9h-18.21zM1219.76 710.2h18.21v6.9h-18.21zM1219.76 717.1h18.21v6.9h-18.21z"/>
</g>
</g>
<g fill="none" stroke="#666666" stroke-width="1.5" stroke-linejoin="round" clip-path="url(#clipR)">
<polyline points="879.5,309.8 881.9,313.9 889.3,311.5 897.5,310.6 905.7,307.4 912.2,304.9 915.5,309 917.2,314.7 914.7,319.7 915.5,324.6 922.1,327.8 930.3,330.3 938.5,332.8 946.6,334.4 954.8,331.9 961.4,334.4 964.7,339.3 969.6,342.6 972,349.1 973.7,355.7 968.8,358.1 974.5,361.4 981,366.3"/>
<polyline points="981,366.3 986,363.9 992.5,360.6 999.1,357.3 1007.2,356.5 1017.1,357.3 1026.9,356.5 1035.1,357.3 1041.6,359"/>
<polyline points="1030.2,322.1 1023.6,326.2 1018.7,330.3 1013.8,333.6 1012.2,339.3 1007.2,343.4 1011.3,347.5 1015.4,352.4 1018.7,356.5"/>
<polyline points="1041.6,359 1040,363.9 1035.1,368 1031.8,372.1 1031,377.8 1026.9,383.5 1025.3,390.1 1023.6,396.6 1018.7,403.2 1014.6,408.1 1013.8,414.7 1017.1,419.6 1023.6,422 1030.2,424.5 1035.1,429.4 1035.9,438.2 1034.3,446.4 1031.8,454.6 1030.2,463.6 1022,465.2 1012.2,468.5 1004,469.3 997.4,465.2"/>
<polyline points="981,366.3 976.9,372.1 972.9,378.6 968.8,385.2 966.3,393.4 964.7,401.6 959.7,406.5 957.3,413 954.8,421.2 951.6,429.4 949.9,434.9 946.6,441.5 940.9,448 933.5,449.7 928.6,454.6 922.1,457 916.3,451.3 914.7,457.8 912.2,466.9"/>
<polyline points="929.4,500.4 935.2,501.3 941.7,500.4 944.2,496.3 951.6,495.5 954.8,489 959.7,485.7 963,477.5 966.3,471 972.9,468.5 979.4,466.9 984.3,461.9 988.4,457 994.1,460.3 997.4,465.2"/>
<polyline points="997.4,465.2 992.5,470.1 988.4,475 989.2,482.4 994.1,486.5 1000.7,489.8 1005.6,491.4 1012.2,492.2 1017.1,494.7 1017.9,498.8 1013.8,502.1 1018.7,505.3 1023.6,508.6 1027.7,507.8 1026.1,511.9 1022.8,515.2 1022,520.9 1019.5,526.6 1018.7,533.2 1017.9,541.4 1020.4,549.6 1022,557.8 1023.6,566 1022.8,574.1 1024.4,580 1025.6,587.5 1024,592.4 1028.1,597.3 1032.2,602.2 1035.4,607.2 1037.9,609.6 1033.8,615.3 1030.5,620.3 1027.2,625.2 1022.3,628.5 1020.7,633.4 1023.2,638.3 1024,643.2"/>
<polyline points="1023.6,526.6 1027.7,525 1031,528.3 1028.5,530.7 1024.4,529.1 1023.6,526.6"/>
<polyline points="1031,528.3 1033.5,534.8 1037.6,539.7 1041.6,544.7 1044.9,549.6 1048.2,544.7 1050,541.4 1053.1,539.3 1066.2,537.7 1079.3,535.4 1082.6,542.6 1079.3,549.1 1085.9,559 1092.4,567.2 1099,577 1107.2,578.6"/>
<polyline points="1101.4,356.3 1103.1,363.7 1103.9,371.9 1106.3,379.3 1108.8,386.6 1110.4,390.7 1114.5,393.2 1108,395.7 1112.1,399.7 1117,404.7 1118.6,409.6 1123.5,412.9 1128.5,416.9 1130.1,421.9 1133.4,426 1134.2,430.9 1138.3,434.1 1144.8,435.8 1151.4,439.1 1159.6,446.6 1153,456.4 1154.7,466.2 1164.5,476 1166.1,489.1 1176,495.7 1190.7,502.3 1200.5,512.1 1202.2,525.2 1213.6,531.7 1223.5,538.3 1239.8,546.5 1250,550.1 1258,553"/>
<polyline points="1202.2,525.2 1194,521.9 1184.2,512.1 1174.3,512.1 1164.5,515.4 1156.3,512.1 1153,505.5 1144.8,512.1 1135,518.6 1133.4,516.4 1131.7,531.1 1121.9,532.8 1112.1,539.3 1108.8,552.4 1105.5,565.5 1107.2,578.6"/>
<polyline points="1107.2,578.6 1115.4,580.3 1121.9,585.2 1126.8,595 1128.5,604.8 1131.7,614.7 1141.6,617.9 1149.8,621.2 1144.8,627.8 1135,634.3 1128.5,640.9 1126.8,654 1125.2,667.1 1128.5,678.5 1130.1,693.3 1128.5,701.5"/>
<polyline points="1250,621.2 1239.8,622.9 1226.7,627.8 1210.4,631 1200.5,637.6 1195.6,644.1 1187.4,645.8 1184.2,654 1187.4,670.4 1185.8,683.5 1177.6,696.6 1174.3,709.7 1164.5,712.9 1157.9,719.5 1154.7,726"/>
<polyline points="1300.9,438.3 1295.2,439.1 1288.6,439.9 1282.1,441.6 1275.5,443.2 1269,443.2 1264.9,444.8 1267.3,448.9 1271.4,451.4 1268.1,454.7 1266.5,459.6 1268.1,464.5 1265.7,468.6 1262.4,471 1263.2,477.6 1264.1,484.1 1265.9,489.1 1269.1,496.5 1274.1,502.2 1279,507.2 1283.1,512.1"/>
</g>
<polygon points="878.8,196.2 884.6,194.6 891.1,197 895.2,195.4 900.1,197.8 905.9,198.7 910.8,194.6 915.7,195.4 921.4,192.1 925.5,187.2 930.4,185.6 935.3,181.5 941.9,179.8 947.6,174.9 953.4,175.7 958.3,179.8 960,182.4 965.9,181.4 973.8,175.5 981.6,172.6 991.4,174.6 999.3,179.5 1004.2,183.4 1008.1,179.5 1012.1,169.6 1016,164.7 1022.9,161.8 1032.7,164.7 1038.6,162.8 1046.4,162.8 1050.4,169.6 1054.3,172.6 1060.2,168.7 1067.1,168.7 1067.1,177.5 1073.9,180.5 1083.8,179.5 1090.6,184.4 1094.6,190.3 1092.6,199.1 1089.7,208 1082.8,203 1075.9,205 1070,210.9 1062.2,214.8 1056.3,216.8 1058.2,220.7 1066.1,224.7 1060.2,228.6 1056.3,236.4 1050.4,243.3 1044.5,248.2 1038.6,249.2 1032.7,247.2 1026.8,244.3 1019.9,245.3 1018,252.2 1017,260 1013,265.9 1007.2,269.8 1009.1,277.7 1010.1,285.6 1006.2,293.4 1004.2,303.2 1005.2,313.1 1013,310.1 1022.9,309.1 1028.8,313.1 1032.7,319.9 1038.6,322.9 1042.5,319.9 1050.4,324.9 1058.2,328.8 1060.5,331 1064.6,336.7 1069.5,342.4 1074.4,347.3 1078.5,353.1 1083.4,357.2 1087.5,357.2 1090,362.9 1094.1,363.7 1098.1,361.3 1099.8,355.5 1101.4,351.4 1105.5,349 1110.4,349.8 1115.3,347.3 1117.8,342.4 1121.9,340 1124.4,344.1 1129.3,346.5 1132.5,350.6 1135.8,354.7 1141.6,355.5 1146.5,353.1 1151.4,350.6 1156.3,349 1157.9,345.7 1162,345.7 1166.1,349 1169.4,353.1 1174.3,353.1 1179.2,351.4 1184.1,353.1 1187.4,355.5 1188.2,361.3 1190.7,363.7 1194.8,361.3 1198.9,358 1203.8,357.2 1210.4,357.2 1214.4,357.2 1218.5,359.6 1223.5,360.4 1230,360.4 1234.9,361.3 1240,362.1 1245.2,366.2 1250.1,365.4 1254.2,368.7 1259.1,367.8 1265.7,367 1272.2,367 1277.2,368.7 1282.1,371.9 1287,373.6 1291.9,376.9 1296.8,379.3 1300.9,380.1 1300.9,386.7 1300.1,394.1 1299.3,401.4 1297.6,407.2 1295.2,412.9 1294.4,418.6 1292.7,424.4 1295.2,429.3 1298.5,433.4 1303.4,434.2 1306.6,430.9 1311.6,429.3 1314.8,425.2 1318.1,424.4 1323,426 1327.9,428.5 1332.9,430.1 1339.4,430.9 1346,431.7 1350.9,434.2 1355.8,435.8 1359.1,439.9 1364,442.4 1368.9,444.8 1373.8,448.1 1377.9,452.2 1381.2,455.5 1382.8,460.4 1386.1,464.5 1388.5,469.4 1390.2,476 1391.2,481 1388.7,485 1387.9,489.1 1391.2,492.4 1394.4,495.7 1397.7,499.8 1400.2,503.1 1397.7,507.2 1393.6,510.4 1391.2,513.7 1387.1,515.3 1383.8,514.5 1379.7,511.3 1374,512.1 1371.5,516.2 1368.2,520.3 1364.1,522.7 1360.9,525.2 1359.2,529.3 1354.3,529.3 1349.4,527.6 1345.3,525.2 1343.7,521.1 1337.9,521.1 1333.8,517 1326.5,515.3 1319.9,516.2 1315,517.8 1308.5,520.3 1301.9,519.4 1295.3,517.8 1288.8,517 1284.7,513.7 1280.6,511.3 1274.1,512.1 1267.5,513.7 1261,514.5 1257.7,517 1258.5,521.9 1261,526 1261.8,530.1 1257.7,533.4 1251.9,535.8 1247.8,538.3 1244.6,543.2 1241.3,547.3 1239.7,553 1235.6,557.9 1234.7,562.9 1233.1,569.4 1229.8,573.5 1229,579.2 1230.6,585 1231.5,590 1229,595 1225.5,600 1230.4,602.5 1234.5,605.7 1236.2,610.6 1238.6,615.6 1241.9,618.8 1248.5,621.3 1254.2,622.9 1255,626.2 1251.7,631.1 1250.1,637.7 1251.7,643.4 1255.8,649.1 1259.1,653.2 1255.8,657.3 1252.5,663.1 1250.1,668.8 1249.8,675.3 1251.7,681.1 1255.8,686 1258.3,690.9 1259.6,696.6 1258.3,702.4 1255,707.3 1250.9,710.6 1249.3,713.8 1254.2,717.1 1256.6,722 1257.5,726.9 1261.6,731 1263.2,736 1259.8,738.7 1255.2,740.5 1251.7,743.9 1252.3,748.5 1251.7,751.9 1254.6,754.2 1253.5,757.1 1250.6,759.4 1247.2,758.8 1242.6,759.4 1239.1,761.1 1233.4,761.7 1228.8,762.8 1224.2,762.2 1219.6,762.8 1215,762.2 1209.3,764 1205.9,765.7 1200.1,766.3 1194.4,765.7 1188.7,765.1 1182.9,764.5 1178.3,763.4 1174.3,761.7 1174.9,757.7 1176.1,754.2 1172.6,752.5 1168.6,750.8 1167.5,747.9 1170.3,745.6 1173.2,743.9 1172,739.3 1169.7,735.9 1164.6,735.3 1157.9,734 1153,731.6 1153.8,726.6 1150.6,721.7 1144.8,717.6 1138.3,713.5 1132.5,709.4 1127.6,704.5 1121.9,700.4 1117,695.5 1110.4,692.2 1103.9,689 1097.3,688.1 1090.8,686.5 1083.4,686.5 1077.7,684.1 1072.8,679.1 1068.7,674.2 1062.9,670.1 1056.4,668.5 1051.5,665.2 1047.4,660.3 1044.9,654.6 1040,652.9 1043.6,653 1037.1,652.2 1030.5,653 1024.8,651.4 1019.9,646.5 1014.1,642.4 1009.2,638.3 1004.3,634.2 997.8,631.7 992,627.6 987.9,623.5 988.8,618.6 986.3,612.9 982.2,609.6 978.9,605.5 974.8,607.2 968.3,608.8 964.2,610.4 960.1,607.2 955.2,609.6 950.3,610.4 947,613.7 942.1,616.2 937.2,614.5 932.2,611.3 928.1,608 924.9,604.7 921.6,605.5 917.5,608.8 915,612.1 911.8,617 908.5,619.4 902.8,614.5 905.2,612.1 908.5,608.8 906.9,603.1 902.8,598.1 898.7,593.2 895.4,589.1 894.6,585 891.3,580.1 889.7,575.2 894.6,571.9 893.8,566.2 892.1,559.7 896.2,557.2 901.1,558.8 906.9,560.5 910.1,558.8 915.9,555.6 919.1,551.5 924.1,549 927.3,545.7 931.4,543.3 933.1,540 933.5,537.3 931.9,532.4 927.8,528.3 924.5,523.4 922.1,518.5 917.2,514.4 911.4,512.7 908.1,509.4 912.2,507 918.8,510.3 925.3,511.9 929.4,510.3 930.3,505.3 926.2,502.1 927,495.5 924.5,489 919.6,486.5 922.9,484.1 922.1,478.3 918.8,472.6 913.9,467.7 907.3,465.2 900.8,462.8 894.2,463.6 895,458.7 893.4,452.9 891,446.4 887.7,439.8 882.8,434.9 881.1,430 887.7,422.9 893.4,417.9 894.2,411.4 895,404.8 898.3,399.9 896.7,395 893.4,388.5 890.1,381.9 888.5,373.7 887.7,365.5 889.3,357.3 888.5,350.8 891,345.9 888.5,341 881.1,343.4 881.9,338.5 874.6,335.2 872.9,330.3 868.8,326.2 873.8,321.3 875.4,314.7 876.2,306.6 878,304.3 882.9,299.4 887,294.5 888.7,290.4 884.6,287.1 887,285.5 892.8,282.2 897.7,282.2 901.8,279.7 904.2,276.5 903.4,271.6 900.1,267.5 895.2,263.4 890.3,260.9 883.8,257.6 879.7,253.5 880.5,247 881.3,238.8 880.5,230.6 877.2,224.1 878.8,217.5 877.2,211 876.4,202.8" fill="none" stroke="#555555" stroke-width="2.9" stroke-linejoin="round" filter="url(#rough2)"/>
<g font-family='"Liberation Sans","Noto Sans CJK SC",sans-serif' font-size="15.5" fill="#1c1c1c" text-anchor="middle">
<text x="958" y="263" textLength="46.8" lengthAdjust="spacingAndGlyphs">宁陕县</text>
<text x="934" y="399.5" textLength="46.8" lengthAdjust="spacingAndGlyphs">石泉县</text>
<text x="986.7" y="426" textLength="46.8" lengthAdjust="spacingAndGlyphs">汉阴县</text>
<text x="1088" y="458" textLength="46.8" lengthAdjust="spacingAndGlyphs">汉滨区</text>
<text x="1208.3" y="442" textLength="46.8" lengthAdjust="spacingAndGlyphs">旬阳县</text>
<text x="1322.3" y="485" textLength="46.8" lengthAdjust="spacingAndGlyphs">白河县</text>
<text x="975" y="549.5" textLength="46.8" lengthAdjust="spacingAndGlyphs">紫阳县</text>
<text x="1082.2" y="615" textLength="46.8" lengthAdjust="spacingAndGlyphs">岚皋县</text>
<text x="1179.6" y="615" textLength="46.8" lengthAdjust="spacingAndGlyphs">平利县</text>
<text x="1220.5" y="702" textLength="46.8" lengthAdjust="spacingAndGlyphs">镇坪县</text>
</g></g>
<g font-family='"Liberation Sans","Noto Sans CJK SC",sans-serif' fill="#0c0c0c">
<text x="816" y="57.5" font-size="25.5" textLength="305" lengthAdjust="spacingAndGlyphs">安康市天气现象落区预报图</text>
<text x="816" y="89.5" font-size="20" textLength="268.5" lengthAdjust="spacingAndGlyphs">2026年01月29日08时-30日08时</text>
<text x="816" y="118.5" font-size="20" textLength="218.5" lengthAdjust="spacingAndGlyphs">2026年01月27日11时发布</text>
<text x="816" y="147" font-size="20" textLength="148" lengthAdjust="spacingAndGlyphs">安康市气象台 制</text>
</g>
<rect x="1351.8" y="564.90" width="14.2" height="13.71" fill="#a9a598" stroke="#3c3c3c" stroke-width="0.9"/>
<rect x="1351.8" y="578.61" width="14.2" height="13.71" fill="#ff8000" stroke="#3c3c3c" stroke-width="0.9"/>
<rect x="1351.8" y="592.31" width="14.2" height="13.71" fill="#b27a12" stroke="#3c3c3c" stroke-width="0.9"/>
<rect x="1351.8" y="606.02" width="14.2" height="13.71" fill="#505050" stroke="#3c3c3c" stroke-width="0.9"/>
<rect x="1351.8" y="619.73" width="14.2" height="13.71" fill="#808080" stroke="#3c3c3c" stroke-width="0.9"/>
<rect x="1351.8" y="633.43" width="14.2" height="13.71" fill="#a8a8a8" stroke="#3c3c3c" stroke-width="0.9"/>
<rect x="1351.8" y="647.14" width="14.2" height="13.71" fill="#d0d0d0" stroke="#3c3c3c" stroke-width="0.9"/>
<rect x="1351.8" y="660.84" width="14.2" height="13.71" fill="#900050" stroke="#3c3c3c" stroke-width="0.9"/>
<rect x="1351.8" y="674.55" width="14.2" height="13.71" fill="#ff00ff" stroke="#3c3c3c" stroke-width="0.9"/>
<rect x="1351.8" y="688.26" width="14.2" height="13.71" fill="#0000ff" stroke="#3c3c3c" stroke-width="0.9"/>
<rect x="1351.8" y="701.96" width="14.2" height="13.71" fill="#6ac0ff" stroke="#3c3c3c" stroke-width="0.9"/>
<rect x="1351.8" y="715.67" width="14.2" height="13.71" fill="#3ab842" stroke="#3c3c3c" stroke-width="0.9"/>
<rect x="1351.8" y="729.38" width="14.2" height="13.71" fill="#a8f090" stroke="#3c3c3c" stroke-width="0.9"/>
<rect x="1351.8" y="743.08" width="14.2" height="13.71" fill="#ffc0f0" stroke="#3c3c3c" stroke-width="0.9"/>
<rect x="1351.8" y="756.79" width="14.2" height="13.71" fill="#ffb040" stroke="#3c3c3c" stroke-width="0.9"/>
<rect x="1351.8" y="770.49" width="14.2" height="13.71" fill="#ffff00" stroke="#3c3c3c" stroke-width="0.9"/>
<g font-family='"Liberation Sans","Noto Sans CJK SC",sans-serif' font-size="11" fill="#555">
<text x="1371.5" y="575.9" textLength="10.9" lengthAdjust="spacingAndGlyphs">霾</text>
<text x="1371.5" y="589.6" textLength="21.8" lengthAdjust="spacingAndGlyphs">冻雨</text>
<text x="1371.5" y="603.3" textLength="10.9" lengthAdjust="spacingAndGlyphs">雾</text>
<text x="1371.5" y="617.0" textLength="21.8" lengthAdjust="spacingAndGlyphs">暴雪</text>
<text x="1371.5" y="630.7" textLength="21.8" lengthAdjust="spacingAndGlyphs">大雪</text>
<text x="1371.5" y="644.4" textLength="21.8" lengthAdjust="spacingAndGlyphs">中雪</text>
<text x="1371.5" y="658.1" textLength="21.8" lengthAdjust="spacingAndGlyphs">小雪</text>
<text x="1371.5" y="671.8" textLength="43.6" lengthAdjust="spacingAndGlyphs">特大暴雨</text>
<text x="1371.5" y="685.5" textLength="32.7" lengthAdjust="spacingAndGlyphs">大暴雨</text>
<text x="1371.5" y="699.2" textLength="21.8" lengthAdjust="spacingAndGlyphs">暴雨</text>
<text x="1371.5" y="712.9" textLength="21.8" lengthAdjust="spacingAndGlyphs">大雨</text>
<text x="1371.5" y="726.6" textLength="21.8" lengthAdjust="spacingAndGlyphs">中雨</text>
<text x="1371.5" y="740.3" textLength="21.8" lengthAdjust="spacingAndGlyphs">小雨</text>
<text x="1371.5" y="754.0" textLength="32.7" lengthAdjust="spacingAndGlyphs">雨夹雪</text>
<text x="1371.5" y="767.7" textLength="32.7" lengthAdjust="spacingAndGlyphs">雷阵雨</text>
<text x="1371.5" y="781.4" textLength="21.8" lengthAdjust="spacingAndGlyphs">阵雨</text>
</g>
<g font-family='"Liberation Serif","Noto Serif CJK SC",serif' font-weight="600" fill="#000" text-anchor="middle">
<text x="107" y="868.2" font-size="25.5" textLength="21" lengthAdjust="spacingAndGlyphs">图</text>
<text x="131.5" y="867.4" font-size="27" font-weight="400" stroke="#000" stroke-width="0.45" textLength="11.2" lengthAdjust="spacingAndGlyphs">1</text>
<text x="169" y="867.4" font-size="27" font-weight="400" stroke="#000" stroke-width="0.45" textLength="11.2" lengthAdjust="spacingAndGlyphs">1</text>
<text x="193.2" y="868.2" font-size="25.5" textLength="21" lengthAdjust="spacingAndGlyphs">月</text>
<text x="226.8" y="867.4" font-size="27" font-weight="400" stroke="#000" stroke-width="0.45" textLength="22.4" lengthAdjust="spacingAndGlyphs">29</text>
<text x="257.4" y="868.2" font-size="25.5" textLength="21" lengthAdjust="spacingAndGlyphs">日</text>
<text x="290.6" y="867.4" font-size="27" font-weight="400" stroke="#000" stroke-width="0.45" textLength="22.4" lengthAdjust="spacingAndGlyphs">08</text>
<text x="321.5" y="868.2" font-size="25.5" textLength="21" lengthAdjust="spacingAndGlyphs">时</text>
<text x="353" y="867.4" font-size="27" font-weight="400" stroke="#000" stroke-width="0.45" textLength="11.2" lengthAdjust="spacingAndGlyphs">2</text>
<text x="376.8" y="868.2" font-size="25.5" textLength="21" lengthAdjust="spacingAndGlyphs">月</text>
<text x="403" y="867.4" font-size="27" font-weight="400" stroke="#000" stroke-width="0.45" textLength="11.2" lengthAdjust="spacingAndGlyphs">1</text>
<text x="427.5" y="868.2" font-size="25.5" textLength="21" lengthAdjust="spacingAndGlyphs">日</text>
<text x="459.5" y="867.4" font-size="27" font-weight="400" stroke="#000" stroke-width="0.45" textLength="22.4" lengthAdjust="spacingAndGlyphs">08</text>
<text x="490" y="868.2" font-size="25.5" textLength="21" lengthAdjust="spacingAndGlyphs">时</text>
<text x="515" y="868.2" font-size="25.5" textLength="21" lengthAdjust="spacingAndGlyphs">安</text>
<text x="540.5" y="868.2" font-size="25.5" textLength="21" lengthAdjust="spacingAndGlyphs">康</text>
<text x="566" y="868.2" font-size="25.5" textLength="21" lengthAdjust="spacingAndGlyphs">市</text>
<text x="591.5" y="868.2" font-size="25.5" textLength="21" lengthAdjust="spacingAndGlyphs">最</text>
<text x="617" y="868.2" font-size="25.5" textLength="21" lengthAdjust="spacingAndGlyphs">低</text>
<text x="822.4" y="868.2" font-size="25.5" textLength="21" lengthAdjust="spacingAndGlyphs">图</text>
<text x="847.5" y="867.4" font-size="27" font-weight="400" stroke="#000" stroke-width="0.45" textLength="11.2" lengthAdjust="spacingAndGlyphs">2</text>
<text x="872" y="867.4" font-size="27" font-weight="400" stroke="#000" stroke-width="0.45" textLength="11.2" lengthAdjust="spacingAndGlyphs">1</text>
<text x="896" y="868.2" font-size="25.5" textLength="21" lengthAdjust="spacingAndGlyphs">月</text>
<text x="929" y="867.4" font-size="27" font-weight="400" stroke="#000" stroke-width="0.45" textLength="22.4" lengthAdjust="spacingAndGlyphs">29</text>
<text x="960.5" y="868.2" font-size="25.5" textLength="21" lengthAdjust="spacingAndGlyphs">日</text>
<text x="992.8" y="867.4" font-size="27" font-weight="400" stroke="#000" stroke-width="0.45" textLength="22.4" lengthAdjust="spacingAndGlyphs">08</text>
<text x="1025.6" y="868.2" font-size="25.5" textLength="21" lengthAdjust="spacingAndGlyphs">时</text>
<text x="1055" y="867.4" font-size="27" font-weight="400" stroke="#000" stroke-width="0.45" textLength="11.2" lengthAdjust="spacingAndGlyphs">1</text>
<text x="1078.5" y="868.2" font-size="25.5" textLength="21" lengthAdjust="spacingAndGlyphs">月</text>
<text x="1112.4" y="867.4" font-size="27" font-weight="400" stroke="#000" stroke-width="0.45" textLength="22.4" lengthAdjust="spacingAndGlyphs">30</text>
<text x="1143.7" y="868.2" font-size="25.5" textLength="21" lengthAdjust="spacingAndGlyphs">日</text>
<text x="1176" y="867.4" font-size="27" font-weight="400" stroke="#000" stroke-width="0.45" textLength="22.4" lengthAdjust="spacingAndGlyphs">08</text>
<text x="1207.2" y="868.2" font-size="25.5" textLength="21" lengthAdjust="spacingAndGlyphs">时</text>
<text x="1231.4" y="868.2" font-size="25.5" textLength="21" lengthAdjust="spacingAndGlyphs">安</text>
<text x="1257.4" y="868.2" font-size="25.5" textLength="21" lengthAdjust="spacingAndGlyphs">康</text>
<text x="1283.4" y="868.2" font-size="25.5" textLength="21" lengthAdjust="spacingAndGlyphs">市</text>
<text x="1308.2" y="868.2" font-size="25.5" textLength="21" lengthAdjust="spacingAndGlyphs">降</text>
<text x="1333" y="868.2" font-size="25.5" textLength="21" lengthAdjust="spacingAndGlyphs">水</text>
<text x="1358.5" y="868.2" font-size="25.5" textLength="21" lengthAdjust="spacingAndGlyphs">相</text>
<text x="1383.9" y="868.2" font-size="25.5" textLength="21" lengthAdjust="spacingAndGlyphs">态</text>
<text x="1409.3" y="868.2" font-size="25.5" textLength="21" lengthAdjust="spacingAndGlyphs">分</text>
<text x="1434.7" y="868.2" font-size="25.5" textLength="21" lengthAdjust="spacingAndGlyphs">布</text>
<text x="1460.7" y="868.2" font-size="25.5" textLength="21" lengthAdjust="spacingAndGlyphs">图</text>
</g>
<rect x="333.2" y="857.6" width="12.6" height="1.9" fill="#000"/>
<rect x="1036.7" y="857.6" width="12.6" height="1.9" fill="#000"/>
<g id="aibtn">
<rect x="633.5" y="827.5" width="161" height="45.5" rx="4.5" fill="#fff" stroke="#c4c4c4" stroke-width="1.4"/>
<g fill="none" stroke="#222" stroke-width="1.8" stroke-linecap="round" stroke-linejoin="round">
<path d="M643 843.5v-4.2a2.3 2.3 0 0 1 2.3-2.3h4.2M662.5 837h4.2a2.3 2.3 0 0 1 2.3 2.3v4.2M669 857v4.2a2.3 2.3 0 0 1-2.3 2.3h-4.2M649.500 863.5h-4.2a2.3 2.3 0 0 1-2.3-2.3V857"/>
<path d="M770.6 848.2l5.200 5.500 5.200-5.500" stroke="#2a2a2a" stroke-width="2.3"/>
</g>
<path d="M655.600 842.300c1.050 5.500 2.700 7.150 8.200 8.200-5.500 1.050-7.150 2.700-8.200 8.200-1.050-5.500-2.700-7.150-8.200-8.200 5.500-1.050 7.150-2.700 8.200-8.200z" fill="none" stroke="#6a3df0" stroke-width="1.9" stroke-linejoin="round"/>
<text x="680.5" y="859" font-family='"Liberation Sans","Noto Sans CJK SC",sans-serif' font-size="23.5" fill="#1a1a1a" textLength="71" lengthAdjust="spacingAndGlyphs">AI识图</text>
</g>
<!--CAP2-->
</svg></body></html>
